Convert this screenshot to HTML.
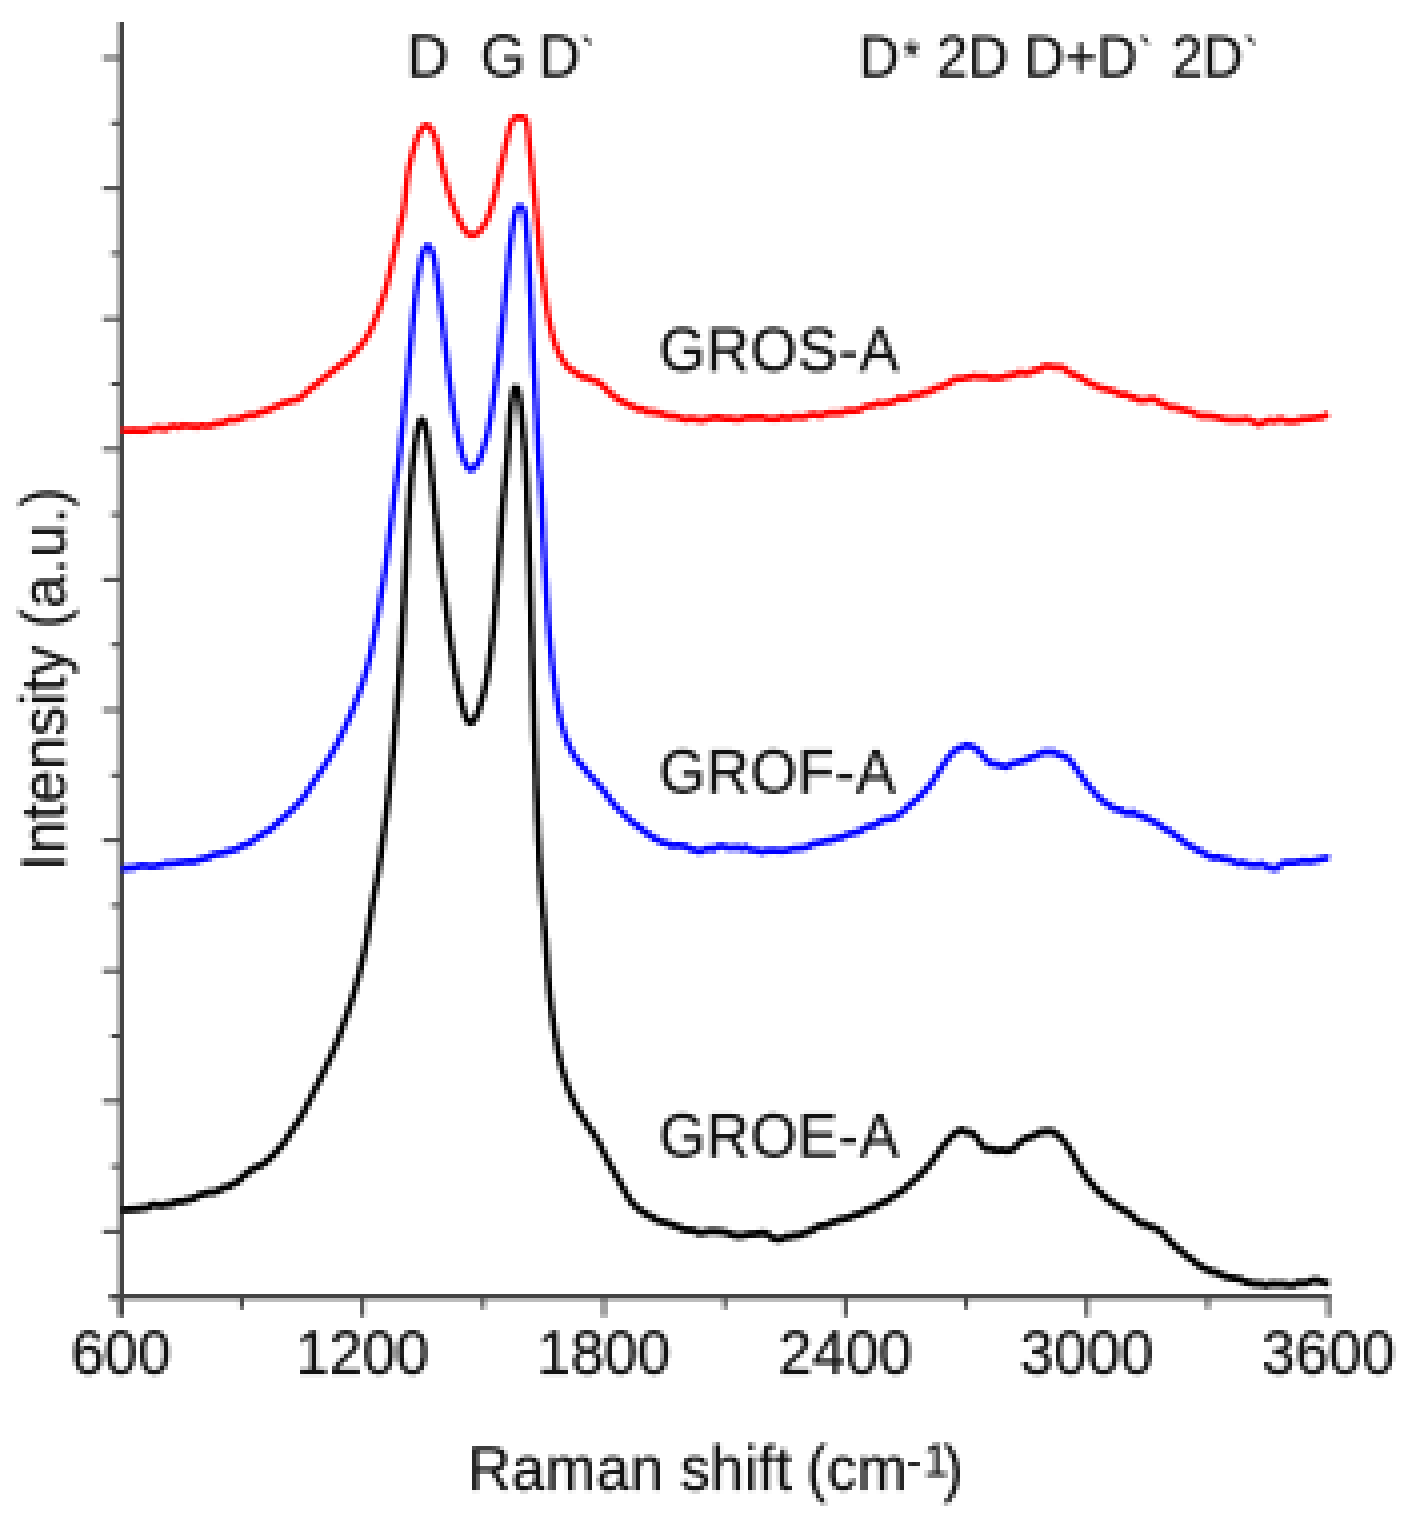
<!DOCTYPE html>
<html><head><meta charset="utf-8"><title>Raman spectra</title>
<style>
html,body{margin:0;padding:0;background:#fff;}
svg{display:block;}
text{font-family:"Liberation Sans",Arial,Helvetica,sans-serif;fill:#111;stroke:#111;stroke-width:0.5px;}
.t60{font-size:60px;}
.t58{font-size:58px;}
.t45{font-size:45px;}
.t46{font-size:46px;}
.t56{font-size:56px;}
</style></head><body>
<svg width="1408" height="1524" viewBox="0 0 1408 1524">
<defs>
<filter id="px" x="0" y="-2" width="1408" height="1528" filterUnits="userSpaceOnUse" color-interpolation-filters="sRGB">
<feConvolveMatrix in="SourceGraphic" order="4" kernelMatrix="1 1 1 1 1 1 1 1 1 1 1 1 1 1 1 1" divisor="16" targetX="1" targetY="1" edgeMode="duplicate" preserveAlpha="true" result="b"/>
<feFlood x="1" y="-1" width="1" height="1" flood-color="#000" result="f"/>
<feComposite in="f" in2="f" operator="over" x="0" y="-2" width="4" height="4" result="cell"/>
<feTile in="cell" result="grid"/>
<feComposite in="b" in2="grid" operator="in" result="s"/>
<feOffset in="s" dx="-1" dy="0" result="s1"/>
<feMerge result="m1"><feMergeNode in="s"/><feMergeNode in="s1"/></feMerge>
<feOffset in="m1" dx="2" dy="0" result="s2"/>
<feMerge result="m2"><feMergeNode in="m1"/><feMergeNode in="s2"/></feMerge>
<feOffset in="m2" dx="0" dy="-1" result="s3"/>
<feMerge result="m3"><feMergeNode in="m2"/><feMergeNode in="s3"/></feMerge>
<feOffset in="m3" dx="0" dy="2" result="s4"/>
<feMerge result="m4"><feMergeNode in="m3"/><feMergeNode in="s4"/></feMerge>
<feGaussianBlur in="m4" stdDeviation="0.5"/>
</filter>
</defs>
<rect width="1408" height="1524" fill="#fff"/>
<g filter="url(#px)">
<rect x="-8" y="-8" width="1424" height="1540" fill="#fff"/>
<line x1="118" y1="22" x2="118" y2="1317" stroke="#bdbdbd" stroke-width="4"/>
<line x1="109" y1="1300" x2="1331" y2="1300" stroke="#bdbdbd" stroke-width="4"/>
<line x1="122" y1="22" x2="122" y2="1317" stroke="#444" stroke-width="4"/>
<line x1="109" y1="1296" x2="1331" y2="1296" stroke="#444" stroke-width="4"/>
<line x1="103" y1="58.0" x2="121" y2="58.0" stroke="#444" stroke-width="4"/>
<line x1="111" y1="123.2" x2="121" y2="123.2" stroke="#444" stroke-width="4"/>
<line x1="103" y1="188.4" x2="121" y2="188.4" stroke="#444" stroke-width="4"/>
<line x1="111" y1="253.6" x2="121" y2="253.6" stroke="#444" stroke-width="4"/>
<line x1="103" y1="318.8" x2="121" y2="318.8" stroke="#444" stroke-width="4"/>
<line x1="111" y1="384.0" x2="121" y2="384.0" stroke="#444" stroke-width="4"/>
<line x1="103" y1="449.2" x2="121" y2="449.2" stroke="#444" stroke-width="4"/>
<line x1="111" y1="514.4" x2="121" y2="514.4" stroke="#444" stroke-width="4"/>
<line x1="103" y1="579.6" x2="121" y2="579.6" stroke="#444" stroke-width="4"/>
<line x1="111" y1="644.8" x2="121" y2="644.8" stroke="#444" stroke-width="4"/>
<line x1="103" y1="710.0" x2="121" y2="710.0" stroke="#444" stroke-width="4"/>
<line x1="111" y1="775.2" x2="121" y2="775.2" stroke="#444" stroke-width="4"/>
<line x1="103" y1="840.4" x2="121" y2="840.4" stroke="#444" stroke-width="4"/>
<line x1="111" y1="905.6" x2="121" y2="905.6" stroke="#444" stroke-width="4"/>
<line x1="103" y1="970.8" x2="121" y2="970.8" stroke="#444" stroke-width="4"/>
<line x1="111" y1="1036.0" x2="121" y2="1036.0" stroke="#444" stroke-width="4"/>
<line x1="103" y1="1101.2" x2="121" y2="1101.2" stroke="#444" stroke-width="4"/>
<line x1="111" y1="1166.4" x2="121" y2="1166.4" stroke="#444" stroke-width="4"/>
<line x1="103" y1="1231.6" x2="121" y2="1231.6" stroke="#444" stroke-width="4"/>
<line x1="111" y1="1296.8" x2="121" y2="1296.8" stroke="#444" stroke-width="4"/>
<line x1="121.0" y1="1296" x2="121.0" y2="1317" stroke="#444" stroke-width="4"/>
<line x1="241.8" y1="1296" x2="241.8" y2="1309" stroke="#444" stroke-width="4"/>
<line x1="362.5" y1="1296" x2="362.5" y2="1317" stroke="#444" stroke-width="4"/>
<line x1="483.2" y1="1296" x2="483.2" y2="1309" stroke="#444" stroke-width="4"/>
<line x1="604.0" y1="1296" x2="604.0" y2="1317" stroke="#444" stroke-width="4"/>
<line x1="724.8" y1="1296" x2="724.8" y2="1309" stroke="#444" stroke-width="4"/>
<line x1="845.5" y1="1296" x2="845.5" y2="1317" stroke="#444" stroke-width="4"/>
<line x1="966.2" y1="1296" x2="966.2" y2="1309" stroke="#444" stroke-width="4"/>
<line x1="1087.0" y1="1296" x2="1087.0" y2="1317" stroke="#444" stroke-width="4"/>
<line x1="1207.8" y1="1296" x2="1207.8" y2="1309" stroke="#444" stroke-width="4"/>
<line x1="1328.5" y1="1296" x2="1328.5" y2="1317" stroke="#444" stroke-width="4"/>
<text transform="translate(121.0,1374) scale(1,1.06)" class="t60" text-anchor="middle">600</text>
<text transform="translate(362.5,1374) scale(1,1.06)" class="t60" text-anchor="middle">1200</text>
<text transform="translate(604.0,1374) scale(1,1.06)" class="t60" text-anchor="middle">1800</text>
<text transform="translate(845.5,1374) scale(1,1.06)" class="t60" text-anchor="middle">2400</text>
<text transform="translate(1087.0,1374) scale(1,1.06)" class="t60" text-anchor="middle">3000</text>
<text transform="translate(1328.5,1374) scale(1,1.06)" class="t60" text-anchor="middle">3600</text>
<path d="M121.3,430.1 L127.8,430.8 L133.9,430.2 L140.7,430.7 L147.6,430.5 L154.0,428.4 L159.5,427.8 L164.7,429.4 L169.9,427.0 L174.7,426.0 L179.3,427.3 L183.4,425.3 L188.2,426.2 L192.3,425.9 L196.4,427.1 L201.3,425.4 L205.5,426.1 L210.2,425.8 L215.2,423.9 L220.4,423.3 L225.4,422.0 L230.2,419.4 L234.9,420.1 L239.7,418.6 L244.4,416.8 L249.2,414.9 L253.9,415.4 L258.7,413.0 L263.7,411.6 L268.9,409.8 L273.9,407.3 L278.6,405.7 L282.8,403.0 L287.9,402.1 L292.7,400.2 L296.7,400.0 L301.3,397.1 L304.8,393.7 L308.3,390.7 L311.8,387.6 L315.4,385.4 L318.9,382.1 L322.5,379.4 L326.1,376.3 L329.7,373.6 L333.2,370.7 L336.8,367.9 L340.3,365.2 L343.9,362.2 L347.4,359.6 L351.0,356.3 L354.5,352.9 L358.1,348.9 L361.6,344.7 L365.2,339.7 L367.5,335.8 L369.9,331.6 L372.3,326.4 L374.9,320.4 L377.4,313.9 L379.8,307.3 L382.1,300.7 L384.1,294.5 L385.0,291.6 L385.8,288.6 L386.6,285.7 L387.4,282.8 L388.0,280.0 L388.7,277.1 L389.3,274.3 L390.0,271.5 L390.6,268.7 L391.2,266.0 L391.8,263.2 L392.4,260.5 L393.0,257.8 L393.7,255.1 L394.3,252.3 L394.9,249.6 L395.5,246.9 L396.1,244.2 L396.7,241.6 L397.2,239.0 L397.8,236.5 L398.3,234.1 L398.8,231.7 L399.3,229.5 L399.8,227.4 L400.2,225.5 L400.6,223.8 L401.0,222.2 L401.4,220.6 L401.8,219.1 L402.1,217.5 L402.5,215.9 L402.8,214.2 L403.2,212.3 L403.5,210.2 L403.9,207.9 L404.3,205.3 L404.6,202.5 L405.0,199.6 L405.3,196.4 L405.7,193.2 L406.0,189.9 L406.3,186.5 L406.7,183.2 L407.1,180.0 L407.5,176.8 L407.9,173.8 L408.4,171.0 L408.9,168.3 L409.5,165.6 L410.0,162.9 L410.6,160.3 L411.3,157.8 L411.9,155.3 L412.5,152.9 L413.2,150.6 L413.8,148.4 L414.4,146.3 L415.0,144.4 L415.5,142.6 L416.0,141.0 L416.5,139.5 L417.0,138.1 L417.5,136.9 L418.0,135.8 L419.0,133.8 L419.8,132.1 L420.6,130.7 L421.3,129.4 L422.2,128.1 L423.1,127.1 L424.2,126.3 L425.4,125.8 L426.8,125.8 L428.1,126.2 L429.2,127.0 L430.3,127.9 L430.9,128.9 L431.5,130.0 L432.2,131.3 L433.0,132.8 L433.9,134.5 L434.8,136.7 L435.3,137.9 L435.8,139.3 L436.3,140.9 L436.8,142.6 L437.3,144.6 L437.9,146.8 L438.4,149.2 L439.0,151.9 L439.6,154.6 L440.2,157.4 L440.9,160.3 L441.5,163.2 L442.1,166.0 L442.7,168.8 L443.3,171.4 L443.9,173.9 L444.5,176.3 L445.1,178.6 L445.7,180.8 L446.3,183.1 L446.9,185.3 L447.4,187.5 L448.0,189.6 L448.6,191.6 L449.2,193.7 L449.8,195.6 L450.4,197.5 L451.0,199.4 L451.6,201.2 L452.2,203.0 L452.8,204.7 L453.4,206.3 L454.0,207.9 L454.6,209.4 L455.1,211.0 L455.7,212.4 L456.3,213.8 L456.9,215.2 L457.5,216.6 L458.1,217.9 L458.7,219.2 L459.3,220.5 L459.9,221.7 L460.5,222.9 L461.1,224.1 L461.7,225.2 L462.3,226.3 L463.5,228.2 L464.7,229.9 L465.7,231.4 L466.8,232.5 L467.8,233.3 L469.2,234.3 L470.5,234.8 L471.7,235.2 L473.0,235.1 L474.3,234.6 L475.7,234.0 L477.0,233.5 L478.1,232.7 L479.4,231.4 L480.4,230.2 L481.6,228.8 L482.8,227.2 L484.0,225.3 L484.7,224.3 L485.3,223.2 L485.9,222.0 L486.5,220.7 L487.1,219.3 L487.7,217.9 L488.3,216.4 L488.9,214.8 L489.5,213.1 L490.1,211.3 L490.6,209.5 L491.2,207.6 L491.8,205.7 L492.4,203.6 L493.0,201.6 L493.6,199.4 L494.2,197.2 L494.8,194.8 L495.4,192.3 L496.0,189.8 L496.6,187.2 L497.1,184.5 L497.7,181.8 L498.3,179.1 L498.9,176.3 L499.5,173.6 L500.1,170.9 L500.7,168.2 L501.3,165.5 L501.9,162.6 L502.6,159.6 L503.2,156.6 L503.9,153.6 L504.5,150.6 L505.1,147.7 L505.7,144.8 L506.3,142.2 L506.9,139.7 L507.4,137.5 L507.8,135.5 L508.2,133.8 L508.5,132.4 L508.8,131.1 L509.3,129.1 L509.7,127.7 L510.1,126.4 L510.5,125.3 L510.9,123.9 L511.4,122.7 L512.1,121.2 L512.8,120.0 L513.5,119.0 L514.5,118.2 L515.7,117.8 L517.0,117.5 L518.5,117.3 L519.9,117.3 L521.2,117.3 L522.5,117.5 L523.7,117.8 L524.8,118.3 L525.6,119.5 L526.2,121.1 L526.5,122.4 L526.9,124.0 L527.2,125.6 L527.6,127.5 L527.8,129.3 L528.0,130.9 L528.2,132.5 L528.3,134.4 L528.6,136.9 L528.7,138.5 L528.9,140.4 L529.1,142.6 L529.4,145.2 L529.6,148.1 L530.0,151.3 L530.3,154.7 L530.7,158.3 L531.1,162.1 L531.5,166.0 L531.9,169.9 L532.3,173.9 L532.6,177.8 L533.0,181.6 L533.4,185.2 L533.8,188.8 L534.1,192.4 L534.5,196.1 L534.9,199.8 L535.2,203.5 L535.6,207.1 L536.0,210.8 L536.3,214.3 L536.7,217.8 L537.0,221.3 L537.4,224.6 L537.7,227.8 L538.0,230.8 L538.3,233.7 L538.5,236.4 L538.8,239.0 L539.0,241.5 L539.2,244.0 L539.4,246.5 L539.7,249.0 L540.0,251.7 L540.2,254.4 L540.5,257.4 L540.9,260.5 L541.3,263.9 L541.7,267.5 L542.1,271.4 L542.6,275.3 L543.1,279.4 L543.6,283.5 L544.1,287.5 L544.6,291.6 L545.1,295.4 L545.6,299.2 L546.1,302.7 L546.6,305.9 L547.1,308.9 L547.5,311.7 L548.0,314.5 L548.5,317.0 L549.0,319.5 L549.4,321.9 L549.9,324.1 L550.4,326.3 L550.9,328.4 L551.3,330.4 L551.8,332.4 L552.3,334.3 L552.8,336.1 L553.2,337.8 L553.7,339.4 L554.1,340.9 L554.5,342.4 L555.0,343.7 L555.4,345.1 L555.9,346.3 L556.4,347.6 L556.9,348.8 L557.4,350.1 L558.0,351.4 L558.6,352.7 L559.2,354.0 L559.9,355.3 L561.9,359.0 L564.1,362.4 L567.3,366.6 L570.9,369.5 L574.7,372.0 L578.9,375.0 L583.8,377.6 L587.6,377.8 L592.0,380.2 L596.4,381.2 L600.3,383.7 L603.6,386.6 L607.1,390.2 L610.7,393.7 L614.2,396.2 L617.8,399.1 L621.3,401.2 L624.9,402.8 L629.3,405.2 L633.8,406.9 L638.2,409.3 L642.6,408.9 L647.1,412.0 L651.5,411.6 L656.0,412.8 L660.4,413.3 L664.8,415.1 L669.2,416.0 L673.7,416.2 L677.7,416.9 L681.8,418.6 L686.6,419.5 L691.5,418.4 L697.1,419.5 L702.8,420.2 L708.3,418.7 L713.6,417.7 L719.0,417.5 L724.3,418.6 L729.7,418.4 L735.0,419.4 L740.3,419.2 L745.7,417.6 L751.0,417.5 L756.3,417.6 L761.6,417.2 L767.0,418.6 L772.3,418.9 L777.6,418.9 L782.9,416.9 L788.2,418.5 L793.6,416.7 L798.9,416.7 L804.2,417.2 L809.5,414.9 L814.9,414.4 L820.2,415.9 L825.5,413.6 L830.9,413.0 L836.2,413.0 L841.9,412.8 L847.6,410.5 L852.8,410.9 L857.0,410.5 L860.9,409.2 L864.7,406.8 L869.1,405.9 L873.5,405.4 L877.9,403.2 L882.4,404.1 L886.8,403.1 L891.3,402.2 L894.9,400.9 L899.0,397.9 L903.6,399.1 L907.8,398.2 L912.7,395.0 L918.3,395.4 L922.2,392.9 L926.1,392.6 L931.6,390.6 L935.5,388.2 L939.4,387.4 L944.8,385.1 L949.2,383.3 L952.9,380.1 L956.5,378.8 L960.8,378.9 L966.5,377.8 L970.7,377.3 L975.0,376.0 L979.2,377.1 L984.9,376.7 L990.7,378.0 L996.2,378.1 L1001.0,377.8 L1005.6,376.2 L1009.9,375.5 L1014.5,374.4 L1019.8,372.4 L1025.7,373.6 L1031.3,372.1 L1035.6,370.0 L1040.0,369.5 L1043.9,366.2 L1049.1,366.1 L1053.8,367.2 L1058.4,367.1 L1063.0,367.6 L1066.1,370.3 L1069.4,372.7 L1074.0,374.8 L1077.9,376.5 L1082.0,378.4 L1086.2,381.4 L1090.5,383.6 L1095.0,385.4 L1099.7,387.8 L1104.7,388.9 L1109.9,390.2 L1115.4,392.0 L1120.8,394.6 L1126.3,394.5 L1130.2,396.8 L1134.0,397.5 L1139.5,400.3 L1143.9,400.3 L1148.1,399.6 L1152.4,398.3 L1157.0,400.7 L1161.3,403.6 L1165.2,404.7 L1169.9,407.4 L1175.3,407.4 L1181.0,409.4 L1186.5,410.5 L1191.8,412.0 L1197.2,415.0 L1202.6,416.2 L1207.9,415.9 L1213.2,416.6 L1218.6,417.7 L1223.9,419.1 L1229.2,419.7 L1234.9,419.9 L1240.8,419.8 L1246.2,418.9 L1250.5,420.3 L1254.1,422.2 L1257.8,424.2 L1262.2,423.2 L1266.0,421.1 L1270.3,420.1 L1275.0,421.1 L1280.2,418.7 L1285.8,421.0 L1291.3,421.2 L1296.7,421.0 L1302.4,418.9 L1307.9,418.8 L1312.9,418.3 L1317.3,417.6 L1321.4,417.3 L1325.9,415.3 L1328.2,413.8" fill="none" stroke="#ff0000" stroke-width="5.3" stroke-linejoin="round" stroke-linecap="butt" transform="translate(0,-0.8)"/>
<path d="M121.3,430.1 L127.8,430.8 L133.9,430.2 L140.7,430.7 L147.6,430.5 L154.0,428.4 L159.5,427.8 L164.7,429.4 L169.9,427.0 L174.7,426.0 L179.3,427.3 L183.4,425.3 L188.2,426.2 L192.3,425.9 L196.4,427.1 L201.3,425.4 L205.5,426.1 L210.2,425.8 L215.2,423.9 L220.4,423.3 L225.4,422.0 L230.2,419.4 L234.9,420.1 L239.7,418.6 L244.4,416.8 L249.2,414.9 L253.9,415.4 L258.7,413.0 L263.7,411.6 L268.9,409.8 L273.9,407.3 L278.6,405.7 L282.8,403.0 L287.9,402.1 L292.7,400.2 L296.7,400.0 L301.3,397.1 L304.8,393.7 L308.3,390.7 L311.8,387.6 L315.4,385.4 L318.9,382.1 L322.5,379.4 L326.1,376.3 L329.7,373.6 L333.2,370.7 L336.8,367.9 L340.3,365.2 L343.9,362.2 L347.4,359.6 L351.0,356.3 L354.5,352.9 L358.1,348.9 L361.6,344.7 L365.2,339.7 L367.5,335.8 L369.9,331.6 L372.3,326.4 L374.9,320.4 L377.4,313.9 L379.8,307.3 L382.1,300.7 L384.1,294.5 L385.0,291.6 L385.8,288.6 L386.6,285.7 L387.4,282.8 L388.0,280.0 L388.7,277.1 L389.3,274.3 L390.0,271.5 L390.6,268.7 L391.2,266.0 L391.8,263.2 L392.4,260.5 L393.0,257.8 L393.7,255.1 L394.3,252.3 L394.9,249.6 L395.5,246.9 L396.1,244.2 L396.7,241.6 L397.2,239.0 L397.8,236.5 L398.3,234.1 L398.8,231.7 L399.3,229.5 L399.8,227.4 L400.2,225.5 L400.6,223.8 L401.0,222.2 L401.4,220.6 L401.8,219.1 L402.1,217.5 L402.5,215.9 L402.8,214.2 L403.2,212.3 L403.5,210.2 L403.9,207.9 L404.3,205.3 L404.6,202.5 L405.0,199.6 L405.3,196.4 L405.7,193.2 L406.0,189.9 L406.3,186.5 L406.7,183.2 L407.1,180.0 L407.5,176.8 L407.9,173.8 L408.4,171.0 L408.9,168.3 L409.5,165.6 L410.0,162.9 L410.6,160.3 L411.3,157.8 L411.9,155.3 L412.5,152.9 L413.2,150.6 L413.8,148.4 L414.4,146.3 L415.0,144.4 L415.5,142.6 L416.0,141.0 L416.5,139.5 L417.0,138.1 L417.5,136.9 L418.0,135.8 L419.0,133.8 L419.8,132.1 L420.6,130.7 L421.3,129.4 L422.2,128.1 L423.1,127.1 L424.2,126.3 L425.4,125.8 L426.8,125.8 L428.1,126.2 L429.2,127.0 L430.3,127.9 L430.9,128.9 L431.5,130.0 L432.2,131.3 L433.0,132.8 L433.9,134.5 L434.8,136.7 L435.3,137.9 L435.8,139.3 L436.3,140.9 L436.8,142.6 L437.3,144.6 L437.9,146.8 L438.4,149.2 L439.0,151.9 L439.6,154.6 L440.2,157.4 L440.9,160.3 L441.5,163.2 L442.1,166.0 L442.7,168.8 L443.3,171.4 L443.9,173.9 L444.5,176.3 L445.1,178.6 L445.7,180.8 L446.3,183.1 L446.9,185.3 L447.4,187.5 L448.0,189.6 L448.6,191.6 L449.2,193.7 L449.8,195.6 L450.4,197.5 L451.0,199.4 L451.6,201.2 L452.2,203.0 L452.8,204.7 L453.4,206.3 L454.0,207.9 L454.6,209.4 L455.1,211.0 L455.7,212.4 L456.3,213.8 L456.9,215.2 L457.5,216.6 L458.1,217.9 L458.7,219.2 L459.3,220.5 L459.9,221.7 L460.5,222.9 L461.1,224.1 L461.7,225.2 L462.3,226.3 L463.5,228.2 L464.7,229.9 L465.7,231.4 L466.8,232.5 L467.8,233.3 L469.2,234.3 L470.5,234.8 L471.7,235.2 L473.0,235.1 L474.3,234.6 L475.7,234.0 L477.0,233.5 L478.1,232.7 L479.4,231.4 L480.4,230.2 L481.6,228.8 L482.8,227.2 L484.0,225.3 L484.7,224.3 L485.3,223.2 L485.9,222.0 L486.5,220.7 L487.1,219.3 L487.7,217.9 L488.3,216.4 L488.9,214.8 L489.5,213.1 L490.1,211.3 L490.6,209.5 L491.2,207.6 L491.8,205.7 L492.4,203.6 L493.0,201.6 L493.6,199.4 L494.2,197.2 L494.8,194.8 L495.4,192.3 L496.0,189.8 L496.6,187.2 L497.1,184.5 L497.7,181.8 L498.3,179.1 L498.9,176.3 L499.5,173.6 L500.1,170.9 L500.7,168.2 L501.3,165.5 L501.9,162.6 L502.6,159.6 L503.2,156.6 L503.9,153.6 L504.5,150.6 L505.1,147.7 L505.7,144.8 L506.3,142.2 L506.9,139.7 L507.4,137.5 L507.8,135.5 L508.2,133.8 L508.5,132.4 L508.8,131.1 L509.3,129.1 L509.7,127.7 L510.1,126.4 L510.5,125.3 L510.9,123.9 L511.4,122.7 L512.1,121.2 L512.8,120.0 L513.5,119.0 L514.5,118.2 L515.7,117.8 L517.0,117.5 L518.5,117.3 L519.9,117.3 L521.2,117.3 L522.5,117.5 L523.7,117.8 L524.8,118.3 L525.6,119.5 L526.2,121.1 L526.5,122.4 L526.9,124.0 L527.2,125.6 L527.6,127.5 L527.8,129.3 L528.0,130.9 L528.2,132.5 L528.3,134.4 L528.6,136.9 L528.7,138.5 L528.9,140.4 L529.1,142.6 L529.4,145.2 L529.6,148.1 L530.0,151.3 L530.3,154.7 L530.7,158.3 L531.1,162.1 L531.5,166.0 L531.9,169.9 L532.3,173.9 L532.6,177.8 L533.0,181.6 L533.4,185.2 L533.8,188.8 L534.1,192.4 L534.5,196.1 L534.9,199.8 L535.2,203.5 L535.6,207.1 L536.0,210.8 L536.3,214.3 L536.7,217.8 L537.0,221.3 L537.4,224.6 L537.7,227.8 L538.0,230.8 L538.3,233.7 L538.5,236.4 L538.8,239.0 L539.0,241.5 L539.2,244.0 L539.4,246.5 L539.7,249.0 L540.0,251.7 L540.2,254.4 L540.5,257.4 L540.9,260.5 L541.3,263.9 L541.7,267.5 L542.1,271.4 L542.6,275.3 L543.1,279.4 L543.6,283.5 L544.1,287.5 L544.6,291.6 L545.1,295.4 L545.6,299.2 L546.1,302.7 L546.6,305.9 L547.1,308.9 L547.5,311.7 L548.0,314.5 L548.5,317.0 L549.0,319.5 L549.4,321.9 L549.9,324.1 L550.4,326.3 L550.9,328.4 L551.3,330.4 L551.8,332.4 L552.3,334.3 L552.8,336.1 L553.2,337.8 L553.7,339.4 L554.1,340.9 L554.5,342.4 L555.0,343.7 L555.4,345.1 L555.9,346.3 L556.4,347.6 L556.9,348.8 L557.4,350.1 L558.0,351.4 L558.6,352.7 L559.2,354.0 L559.9,355.3 L561.9,359.0 L564.1,362.4 L567.3,366.6 L570.9,369.5 L574.7,372.0 L578.9,375.0 L583.8,377.6 L587.6,377.8 L592.0,380.2 L596.4,381.2 L600.3,383.7 L603.6,386.6 L607.1,390.2 L610.7,393.7 L614.2,396.2 L617.8,399.1 L621.3,401.2 L624.9,402.8 L629.3,405.2 L633.8,406.9 L638.2,409.3 L642.6,408.9 L647.1,412.0 L651.5,411.6 L656.0,412.8 L660.4,413.3 L664.8,415.1 L669.2,416.0 L673.7,416.2 L677.7,416.9 L681.8,418.6 L686.6,419.5 L691.5,418.4 L697.1,419.5 L702.8,420.2 L708.3,418.7 L713.6,417.7 L719.0,417.5 L724.3,418.6 L729.7,418.4 L735.0,419.4 L740.3,419.2 L745.7,417.6 L751.0,417.5 L756.3,417.6 L761.6,417.2 L767.0,418.6 L772.3,418.9 L777.6,418.9 L782.9,416.9 L788.2,418.5 L793.6,416.7 L798.9,416.7 L804.2,417.2 L809.5,414.9 L814.9,414.4 L820.2,415.9 L825.5,413.6 L830.9,413.0 L836.2,413.0 L841.9,412.8 L847.6,410.5 L852.8,410.9 L857.0,410.5 L860.9,409.2 L864.7,406.8 L869.1,405.9 L873.5,405.4 L877.9,403.2 L882.4,404.1 L886.8,403.1 L891.3,402.2 L894.9,400.9 L899.0,397.9 L903.6,399.1 L907.8,398.2 L912.7,395.0 L918.3,395.4 L922.2,392.9 L926.1,392.6 L931.6,390.6 L935.5,388.2 L939.4,387.4 L944.8,385.1 L949.2,383.3 L952.9,380.1 L956.5,378.8 L960.8,378.9 L966.5,377.8 L970.7,377.3 L975.0,376.0 L979.2,377.1 L984.9,376.7 L990.7,378.0 L996.2,378.1 L1001.0,377.8 L1005.6,376.2 L1009.9,375.5 L1014.5,374.4 L1019.8,372.4 L1025.7,373.6 L1031.3,372.1 L1035.6,370.0 L1040.0,369.5 L1043.9,366.2 L1049.1,366.1 L1053.8,367.2 L1058.4,367.1 L1063.0,367.6 L1066.1,370.3 L1069.4,372.7 L1074.0,374.8 L1077.9,376.5 L1082.0,378.4 L1086.2,381.4 L1090.5,383.6 L1095.0,385.4 L1099.7,387.8 L1104.7,388.9 L1109.9,390.2 L1115.4,392.0 L1120.8,394.6 L1126.3,394.5 L1130.2,396.8 L1134.0,397.5 L1139.5,400.3 L1143.9,400.3 L1148.1,399.6 L1152.4,398.3 L1157.0,400.7 L1161.3,403.6 L1165.2,404.7 L1169.9,407.4 L1175.3,407.4 L1181.0,409.4 L1186.5,410.5 L1191.8,412.0 L1197.2,415.0 L1202.6,416.2 L1207.9,415.9 L1213.2,416.6 L1218.6,417.7 L1223.9,419.1 L1229.2,419.7 L1234.9,419.9 L1240.8,419.8 L1246.2,418.9 L1250.5,420.3 L1254.1,422.2 L1257.8,424.2 L1262.2,423.2 L1266.0,421.1 L1270.3,420.1 L1275.0,421.1 L1280.2,418.7 L1285.8,421.0 L1291.3,421.2 L1296.7,421.0 L1302.4,418.9 L1307.9,418.8 L1312.9,418.3 L1317.3,417.6 L1321.4,417.3 L1325.9,415.3 L1328.2,413.8" fill="none" stroke="#ff0000" stroke-width="5.3" stroke-linejoin="round" stroke-linecap="butt" transform="translate(0,0.8)"/>
<path d="M121.7,869.3 L127.4,868.0 L133.3,867.8 L137.5,866.5 L141.5,865.7 L146.7,865.9 L151.7,866.7 L156.6,865.8 L161.7,865.2 L167.3,863.2 L171.3,864.0 L175.4,863.0 L179.4,862.5 L185.0,861.9 L189.5,861.5 L194.4,861.7 L198.8,859.9 L203.5,858.6 L208.3,857.5 L213.1,854.9 L217.9,853.9 L222.7,853.1 L227.5,851.7 L232.3,850.4 L237.2,849.0 L242.0,845.8 L246.8,844.4 L250.4,842.4 L254.0,840.0 L257.6,837.2 L261.2,835.2 L264.8,832.4 L268.5,830.8 L272.1,828.0 L275.7,824.8 L279.3,821.4 L282.9,818.5 L286.5,814.9 L290.1,811.7 L293.8,808.2 L297.5,804.4 L301.0,800.6 L304.2,796.6 L307.1,792.3 L309.9,787.8 L312.7,783.4 L315.6,779.2 L318.5,774.8 L321.4,770.5 L324.2,766.2 L327.1,761.4 L330.0,756.6 L332.9,751.5 L334.9,748.0 L336.8,744.5 L338.7,740.6 L340.6,736.7 L342.6,732.6 L344.5,728.6 L346.4,724.3 L348.3,719.9 L350.3,715.4 L352.3,710.6 L354.3,705.7 L356.2,700.8 L358.1,695.8 L359.9,691.0 L361.5,686.2 L363.1,681.6 L364.5,676.9 L365.9,672.1 L367.3,667.2 L368.6,662.1 L369.9,656.7 L371.2,651.0 L372.4,645.2 L373.6,639.3 L374.7,633.4 L375.8,627.5 L376.9,621.7 L377.9,615.7 L378.8,609.8 L379.8,603.9 L380.6,598.2 L381.5,592.8 L382.3,587.7 L383.1,583.0 L383.8,578.4 L384.5,573.8 L385.2,569.1 L385.5,566.6 L385.9,564.0 L386.3,561.3 L386.6,558.6 L387.0,555.7 L387.3,552.9 L387.7,550.0 L388.1,547.0 L388.4,544.0 L388.8,541.1 L389.1,538.1 L389.5,535.1 L389.8,532.2 L390.2,529.3 L390.6,526.4 L390.9,523.5 L391.3,520.6 L391.6,517.8 L392.0,514.9 L392.3,512.0 L392.7,509.1 L393.1,506.2 L393.4,503.4 L393.8,500.5 L394.1,497.6 L394.5,494.7 L394.9,491.9 L395.2,489.2 L395.6,486.5 L395.9,483.9 L396.3,481.3 L396.7,478.7 L397.0,476.0 L397.4,473.2 L397.8,470.2 L398.2,467.0 L398.6,463.6 L399.0,460.0 L399.4,456.1 L399.9,451.9 L400.4,447.4 L400.9,442.8 L401.3,438.0 L401.9,433.1 L402.4,428.2 L402.9,423.2 L403.4,418.2 L403.8,413.3 L404.3,408.5 L404.8,403.9 L405.3,399.4 L405.7,394.9 L406.2,390.4 L406.6,385.9 L407.0,381.5 L407.5,377.1 L407.9,372.7 L408.4,368.3 L408.8,363.9 L409.2,359.5 L409.7,355.0 L410.1,350.6 L410.5,346.1 L411.0,341.5 L411.4,336.9 L411.9,332.2 L412.3,327.5 L412.7,322.9 L413.2,318.3 L413.6,313.8 L414.1,309.4 L414.5,305.2 L415.0,301.1 L415.4,297.3 L415.9,293.6 L416.3,290.0 L416.8,286.4 L417.3,283.0 L417.7,279.7 L418.2,276.5 L418.7,273.5 L419.1,270.6 L419.6,267.9 L420.0,265.4 L420.4,263.1 L420.8,261.0 L421.2,259.1 L421.5,257.6 L421.9,256.2 L422.2,255.0 L422.8,253.2 L423.4,251.8 L423.9,250.7 L424.5,249.5 L425.1,248.4 L425.9,247.2 L427.0,246.3 L428.3,246.2 L429.4,246.9 L430.2,247.9 L431.0,249.5 L431.6,250.6 L432.1,251.7 L432.7,253.1 L433.3,254.9 L433.6,256.0 L433.9,257.4 L434.2,259.1 L434.6,261.0 L435.0,263.2 L435.4,265.7 L435.8,268.5 L436.3,271.5 L436.7,274.7 L437.2,278.0 L437.7,281.4 L438.1,285.0 L438.6,288.6 L439.1,292.2 L439.5,295.8 L440.0,299.4 L440.4,303.0 L440.9,306.8 L441.3,310.6 L441.8,314.6 L442.2,318.6 L442.7,322.6 L443.1,326.6 L443.5,330.7 L444.0,334.7 L444.4,338.6 L444.9,342.5 L445.3,346.3 L445.7,350.0 L446.2,353.7 L446.6,357.4 L447.1,361.1 L447.5,364.7 L447.9,368.3 L448.4,371.9 L448.8,375.4 L449.3,378.9 L449.7,382.3 L450.2,385.7 L450.6,389.0 L451.0,392.3 L451.5,395.5 L451.9,398.7 L452.4,401.8 L452.8,404.9 L453.2,407.9 L453.7,410.9 L454.1,413.8 L454.6,416.8 L455.0,419.6 L455.5,422.4 L456.0,425.2 L456.5,428.0 L457.0,430.8 L457.5,433.5 L458.1,436.3 L458.6,439.0 L459.2,441.7 L459.7,444.2 L460.3,446.7 L460.8,449.0 L461.3,451.2 L461.8,453.2 L462.3,455.0 L462.7,456.6 L463.2,458.0 L463.6,459.2 L464.4,461.3 L465.2,462.9 L465.9,464.2 L466.6,465.4 L467.4,466.6 L468.1,467.6 L469.1,468.7 L470.2,469.3 L471.6,469.5 L472.9,468.8 L474.0,467.8 L475.1,466.5 L475.9,465.5 L476.6,464.6 L477.4,463.6 L478.2,462.3 L479.1,460.7 L480.0,458.5 L480.5,457.2 L481.0,455.7 L481.6,454.1 L482.2,452.3 L482.8,450.4 L483.5,448.4 L484.1,446.2 L484.8,444.0 L485.4,441.7 L486.1,439.3 L486.7,436.8 L487.3,434.2 L487.9,431.6 L488.5,428.9 L489.0,426.0 L489.6,423.0 L490.1,419.9 L490.7,416.7 L491.2,413.5 L491.8,410.1 L492.3,406.8 L492.8,403.4 L493.3,400.0 L493.8,396.6 L494.3,393.2 L494.8,389.8 L495.3,386.5 L495.7,383.1 L496.2,379.7 L496.6,376.3 L497.1,372.8 L497.5,369.3 L497.9,365.7 L498.4,362.1 L498.8,358.4 L499.3,354.5 L499.7,350.6 L500.1,346.5 L500.6,342.3 L501.0,338.0 L501.5,333.6 L501.9,329.2 L502.4,324.6 L502.8,320.1 L503.2,315.5 L503.7,310.9 L504.1,306.3 L504.6,301.8 L505.0,297.3 L505.4,292.8 L505.9,288.1 L506.3,283.4 L506.8,278.6 L507.3,273.8 L507.7,269.1 L508.2,264.4 L508.6,259.9 L509.0,255.5 L509.5,251.4 L509.9,247.5 L510.3,244.0 L510.7,240.7 L511.1,237.7 L511.5,234.8 L511.9,232.1 L512.2,229.6 L512.6,227.2 L513.0,225.1 L513.3,223.0 L513.6,221.1 L514.0,219.4 L514.3,217.7 L514.6,216.2 L514.9,214.8 L515.4,212.7 L515.9,211.3 L516.6,209.9 L517.3,208.9 L517.9,207.8 L518.9,206.9 L520.1,206.7 L521.4,207.1 L522.3,208.1 L523.2,209.3 L524.0,210.5 L524.5,212.0 L525.0,214.5 L525.2,216.2 L525.5,218.3 L525.7,220.8 L526.0,223.5 L526.3,226.6 L526.5,229.8 L526.8,233.2 L527.1,236.7 L527.4,240.3 L527.7,244.0 L527.9,247.6 L528.2,251.2 L528.4,254.6 L528.6,258.0 L528.8,261.3 L529.0,264.7 L529.2,268.1 L529.4,271.6 L529.5,275.0 L529.7,278.5 L529.9,282.1 L530.1,285.8 L530.2,289.5 L530.4,293.4 L530.6,297.3 L530.8,301.4 L531.0,305.6 L531.2,309.9 L531.4,314.3 L531.6,318.8 L531.8,323.3 L532.0,327.9 L532.2,332.4 L532.4,337.0 L532.7,341.6 L532.9,346.1 L533.1,350.6 L533.3,355.0 L533.5,359.5 L533.8,363.9 L534.0,368.4 L534.2,372.8 L534.5,377.2 L534.7,381.7 L535.0,386.1 L535.2,390.6 L535.4,395.0 L535.7,399.5 L535.9,403.9 L536.1,408.4 L536.4,413.0 L536.6,417.7 L536.8,422.4 L537.1,427.1 L537.3,431.8 L537.6,436.4 L537.8,441.0 L538.0,445.3 L538.3,449.5 L538.5,453.5 L538.7,457.2 L538.9,460.6 L539.1,463.5 L539.3,466.2 L539.5,468.6 L539.7,470.9 L540.0,473.1 L540.2,475.4 L540.4,477.7 L540.6,480.3 L540.8,483.1 L541.0,486.3 L541.2,490.0 L541.4,494.1 L541.6,498.4 L541.8,503.0 L542.1,507.9 L542.3,512.9 L542.5,518.1 L542.7,523.4 L542.9,528.9 L543.2,534.4 L543.4,539.9 L543.7,545.5 L544.0,551.0 L544.3,556.6 L544.6,562.4 L544.9,568.4 L545.3,574.4 L545.6,580.6 L546.0,586.8 L546.3,592.9 L546.7,599.0 L547.1,605.0 L547.5,610.9 L547.9,616.5 L548.3,622.0 L548.7,627.3 L549.2,632.5 L549.6,637.6 L550.0,642.5 L550.5,647.4 L551.0,652.2 L551.5,656.9 L551.9,661.5 L552.4,666.0 L553.0,670.4 L553.5,674.7 L554.0,678.9 L554.5,683.0 L555.1,687.0 L555.6,690.9 L556.2,694.7 L556.7,698.4 L557.3,702.0 L557.9,705.5 L558.5,708.9 L559.1,712.2 L559.7,715.4 L561.1,721.5 L562.5,727.2 L564.0,732.3 L565.6,737.1 L567.3,741.6 L569.1,745.9 L571.0,749.8 L573.1,753.8 L575.4,757.2 L577.8,760.8 L580.3,763.7 L584.0,768.1 L587.6,772.5 L591.1,776.7 L594.7,780.2 L598.2,784.2 L601.8,788.4 L605.3,793.0 L607.7,796.3 L611.2,801.0 L614.8,805.5 L618.3,808.9 L621.9,812.4 L625.4,816.2 L629.0,818.9 L632.5,822.5 L636.1,824.8 L639.6,827.7 L643.2,830.4 L646.8,833.4 L650.3,835.2 L653.9,838.4 L657.5,839.6 L662.2,842.7 L667.0,843.1 L671.7,846.1 L676.6,845.2 L681.4,845.7 L685.7,846.2 L690.2,848.8 L694.9,850.1 L699.8,851.8 L704.0,849.9 L708.4,848.3 L713.0,849.3 L717.9,846.4 L723.0,846.0 L728.1,847.9 L733.0,847.9 L737.5,847.3 L741.7,848.7 L745.8,846.9 L750.0,849.9 L754.2,850.1 L758.5,850.8 L762.7,852.1 L767.0,850.4 L771.3,850.8 L775.7,850.4 L780.0,851.1 L784.1,850.8 L789.0,850.0 L793.7,848.6 L798.3,848.5 L803.0,847.9 L807.8,846.8 L812.5,844.0 L817.2,843.1 L822.0,842.0 L826.7,840.8 L831.4,840.3 L836.2,838.1 L840.9,837.7 L845.6,835.5 L850.4,833.8 L855.1,832.7 L859.8,831.3 L864.6,828.0 L869.3,826.3 L874.1,825.5 L878.9,822.2 L883.5,820.0 L887.7,818.9 L891.8,818.8 L896.3,816.3 L900.1,813.8 L904.3,810.2 L908.5,806.2 L912.7,802.8 L916.9,799.2 L921.3,794.8 L925.4,790.4 L929.0,786.5 L931.9,782.8 L934.3,779.1 L936.5,775.5 L938.8,771.8 L941.2,768.0 L943.7,764.3 L946.1,760.5 L948.6,757.2 L951.8,753.4 L955.1,750.5 L958.4,748.5 L962.8,746.9 L967.2,745.0 L971.2,746.6 L974.8,748.0 L978.0,750.4 L981.5,754.3 L984.3,757.6 L987.3,760.6 L991.6,763.7 L996.4,764.1 L1001.5,766.0 L1006.7,767.0 L1010.8,764.4 L1015.0,763.0 L1019.1,761.9 L1023.3,760.7 L1027.5,759.3 L1031.6,757.3 L1035.6,756.2 L1040.2,753.5 L1044.4,752.1 L1048.7,752.1 L1053.9,752.3 L1058.3,754.4 L1062.5,755.9 L1066.2,757.0 L1069.8,760.2 L1072.7,764.1 L1075.1,767.4 L1078.0,771.2 L1081.1,775.8 L1084.4,780.4 L1087.9,785.1 L1091.6,789.3 L1095.7,794.1 L1099.8,798.2 L1104.0,802.2 L1108.1,804.4 L1112.2,807.5 L1116.3,809.2 L1120.4,809.7 L1124.5,812.7 L1128.6,813.6 L1132.7,811.9 L1136.7,814.9 L1140.8,815.9 L1144.9,817.4 L1149.0,819.5 L1153.0,821.4 L1157.1,823.4 L1161.2,826.4 L1165.3,829.3 L1169.4,831.1 L1173.5,834.1 L1177.6,836.8 L1181.7,840.1 L1185.7,843.3 L1189.8,845.9 L1193.9,847.9 L1198.0,850.5 L1202.0,852.1 L1206.1,854.7 L1210.1,856.7 L1214.1,857.8 L1218.3,857.0 L1222.9,859.0 L1227.7,859.3 L1232.7,861.3 L1237.8,863.6 L1242.7,862.5 L1247.7,864.5 L1252.6,865.1 L1257.4,865.0 L1262.2,864.0 L1267.1,866.9 L1271.7,867.9 L1275.8,868.8 L1279.9,865.6 L1283.2,863.2 L1287.7,862.4 L1292.2,862.7 L1297.4,862.1 L1302.9,860.8 L1308.8,861.5 L1313.4,860.8 L1318.2,859.8 L1322.7,858.7 L1328.0,857.8 L1329.2,858.0" fill="none" stroke="#0000ff" stroke-width="5.3" stroke-linejoin="round" stroke-linecap="butt" transform="translate(0,-0.8)"/>
<path d="M121.7,869.3 L127.4,868.0 L133.3,867.8 L137.5,866.5 L141.5,865.7 L146.7,865.9 L151.7,866.7 L156.6,865.8 L161.7,865.2 L167.3,863.2 L171.3,864.0 L175.4,863.0 L179.4,862.5 L185.0,861.9 L189.5,861.5 L194.4,861.7 L198.8,859.9 L203.5,858.6 L208.3,857.5 L213.1,854.9 L217.9,853.9 L222.7,853.1 L227.5,851.7 L232.3,850.4 L237.2,849.0 L242.0,845.8 L246.8,844.4 L250.4,842.4 L254.0,840.0 L257.6,837.2 L261.2,835.2 L264.8,832.4 L268.5,830.8 L272.1,828.0 L275.7,824.8 L279.3,821.4 L282.9,818.5 L286.5,814.9 L290.1,811.7 L293.8,808.2 L297.5,804.4 L301.0,800.6 L304.2,796.6 L307.1,792.3 L309.9,787.8 L312.7,783.4 L315.6,779.2 L318.5,774.8 L321.4,770.5 L324.2,766.2 L327.1,761.4 L330.0,756.6 L332.9,751.5 L334.9,748.0 L336.8,744.5 L338.7,740.6 L340.6,736.7 L342.6,732.6 L344.5,728.6 L346.4,724.3 L348.3,719.9 L350.3,715.4 L352.3,710.6 L354.3,705.7 L356.2,700.8 L358.1,695.8 L359.9,691.0 L361.5,686.2 L363.1,681.6 L364.5,676.9 L365.9,672.1 L367.3,667.2 L368.6,662.1 L369.9,656.7 L371.2,651.0 L372.4,645.2 L373.6,639.3 L374.7,633.4 L375.8,627.5 L376.9,621.7 L377.9,615.7 L378.8,609.8 L379.8,603.9 L380.6,598.2 L381.5,592.8 L382.3,587.7 L383.1,583.0 L383.8,578.4 L384.5,573.8 L385.2,569.1 L385.5,566.6 L385.9,564.0 L386.3,561.3 L386.6,558.6 L387.0,555.7 L387.3,552.9 L387.7,550.0 L388.1,547.0 L388.4,544.0 L388.8,541.1 L389.1,538.1 L389.5,535.1 L389.8,532.2 L390.2,529.3 L390.6,526.4 L390.9,523.5 L391.3,520.6 L391.6,517.8 L392.0,514.9 L392.3,512.0 L392.7,509.1 L393.1,506.2 L393.4,503.4 L393.8,500.5 L394.1,497.6 L394.5,494.7 L394.9,491.9 L395.2,489.2 L395.6,486.5 L395.9,483.9 L396.3,481.3 L396.7,478.7 L397.0,476.0 L397.4,473.2 L397.8,470.2 L398.2,467.0 L398.6,463.6 L399.0,460.0 L399.4,456.1 L399.9,451.9 L400.4,447.4 L400.9,442.8 L401.3,438.0 L401.9,433.1 L402.4,428.2 L402.9,423.2 L403.4,418.2 L403.8,413.3 L404.3,408.5 L404.8,403.9 L405.3,399.4 L405.7,394.9 L406.2,390.4 L406.6,385.9 L407.0,381.5 L407.5,377.1 L407.9,372.7 L408.4,368.3 L408.8,363.9 L409.2,359.5 L409.7,355.0 L410.1,350.6 L410.5,346.1 L411.0,341.5 L411.4,336.9 L411.9,332.2 L412.3,327.5 L412.7,322.9 L413.2,318.3 L413.6,313.8 L414.1,309.4 L414.5,305.2 L415.0,301.1 L415.4,297.3 L415.9,293.6 L416.3,290.0 L416.8,286.4 L417.3,283.0 L417.7,279.7 L418.2,276.5 L418.7,273.5 L419.1,270.6 L419.6,267.9 L420.0,265.4 L420.4,263.1 L420.8,261.0 L421.2,259.1 L421.5,257.6 L421.9,256.2 L422.2,255.0 L422.8,253.2 L423.4,251.8 L423.9,250.7 L424.5,249.5 L425.1,248.4 L425.9,247.2 L427.0,246.3 L428.3,246.2 L429.4,246.9 L430.2,247.9 L431.0,249.5 L431.6,250.6 L432.1,251.7 L432.7,253.1 L433.3,254.9 L433.6,256.0 L433.9,257.4 L434.2,259.1 L434.6,261.0 L435.0,263.2 L435.4,265.7 L435.8,268.5 L436.3,271.5 L436.7,274.7 L437.2,278.0 L437.7,281.4 L438.1,285.0 L438.6,288.6 L439.1,292.2 L439.5,295.8 L440.0,299.4 L440.4,303.0 L440.9,306.8 L441.3,310.6 L441.8,314.6 L442.2,318.6 L442.7,322.6 L443.1,326.6 L443.5,330.7 L444.0,334.7 L444.4,338.6 L444.9,342.5 L445.3,346.3 L445.7,350.0 L446.2,353.7 L446.6,357.4 L447.1,361.1 L447.5,364.7 L447.9,368.3 L448.4,371.9 L448.8,375.4 L449.3,378.9 L449.7,382.3 L450.2,385.7 L450.6,389.0 L451.0,392.3 L451.5,395.5 L451.9,398.7 L452.4,401.8 L452.8,404.9 L453.2,407.9 L453.7,410.9 L454.1,413.8 L454.6,416.8 L455.0,419.6 L455.5,422.4 L456.0,425.2 L456.5,428.0 L457.0,430.8 L457.5,433.5 L458.1,436.3 L458.6,439.0 L459.2,441.7 L459.7,444.2 L460.3,446.7 L460.8,449.0 L461.3,451.2 L461.8,453.2 L462.3,455.0 L462.7,456.6 L463.2,458.0 L463.6,459.2 L464.4,461.3 L465.2,462.9 L465.9,464.2 L466.6,465.4 L467.4,466.6 L468.1,467.6 L469.1,468.7 L470.2,469.3 L471.6,469.5 L472.9,468.8 L474.0,467.8 L475.1,466.5 L475.9,465.5 L476.6,464.6 L477.4,463.6 L478.2,462.3 L479.1,460.7 L480.0,458.5 L480.5,457.2 L481.0,455.7 L481.6,454.1 L482.2,452.3 L482.8,450.4 L483.5,448.4 L484.1,446.2 L484.8,444.0 L485.4,441.7 L486.1,439.3 L486.7,436.8 L487.3,434.2 L487.9,431.6 L488.5,428.9 L489.0,426.0 L489.6,423.0 L490.1,419.9 L490.7,416.7 L491.2,413.5 L491.8,410.1 L492.3,406.8 L492.8,403.4 L493.3,400.0 L493.8,396.6 L494.3,393.2 L494.8,389.8 L495.3,386.5 L495.7,383.1 L496.2,379.7 L496.6,376.3 L497.1,372.8 L497.5,369.3 L497.9,365.7 L498.4,362.1 L498.8,358.4 L499.3,354.5 L499.7,350.6 L500.1,346.5 L500.6,342.3 L501.0,338.0 L501.5,333.6 L501.9,329.2 L502.4,324.6 L502.8,320.1 L503.2,315.5 L503.7,310.9 L504.1,306.3 L504.6,301.8 L505.0,297.3 L505.4,292.8 L505.9,288.1 L506.3,283.4 L506.8,278.6 L507.3,273.8 L507.7,269.1 L508.2,264.4 L508.6,259.9 L509.0,255.5 L509.5,251.4 L509.9,247.5 L510.3,244.0 L510.7,240.7 L511.1,237.7 L511.5,234.8 L511.9,232.1 L512.2,229.6 L512.6,227.2 L513.0,225.1 L513.3,223.0 L513.6,221.1 L514.0,219.4 L514.3,217.7 L514.6,216.2 L514.9,214.8 L515.4,212.7 L515.9,211.3 L516.6,209.9 L517.3,208.9 L517.9,207.8 L518.9,206.9 L520.1,206.7 L521.4,207.1 L522.3,208.1 L523.2,209.3 L524.0,210.5 L524.5,212.0 L525.0,214.5 L525.2,216.2 L525.5,218.3 L525.7,220.8 L526.0,223.5 L526.3,226.6 L526.5,229.8 L526.8,233.2 L527.1,236.7 L527.4,240.3 L527.7,244.0 L527.9,247.6 L528.2,251.2 L528.4,254.6 L528.6,258.0 L528.8,261.3 L529.0,264.7 L529.2,268.1 L529.4,271.6 L529.5,275.0 L529.7,278.5 L529.9,282.1 L530.1,285.8 L530.2,289.5 L530.4,293.4 L530.6,297.3 L530.8,301.4 L531.0,305.6 L531.2,309.9 L531.4,314.3 L531.6,318.8 L531.8,323.3 L532.0,327.9 L532.2,332.4 L532.4,337.0 L532.7,341.6 L532.9,346.1 L533.1,350.6 L533.3,355.0 L533.5,359.5 L533.8,363.9 L534.0,368.4 L534.2,372.8 L534.5,377.2 L534.7,381.7 L535.0,386.1 L535.2,390.6 L535.4,395.0 L535.7,399.5 L535.9,403.9 L536.1,408.4 L536.4,413.0 L536.6,417.7 L536.8,422.4 L537.1,427.1 L537.3,431.8 L537.6,436.4 L537.8,441.0 L538.0,445.3 L538.3,449.5 L538.5,453.5 L538.7,457.2 L538.9,460.6 L539.1,463.5 L539.3,466.2 L539.5,468.6 L539.7,470.9 L540.0,473.1 L540.2,475.4 L540.4,477.7 L540.6,480.3 L540.8,483.1 L541.0,486.3 L541.2,490.0 L541.4,494.1 L541.6,498.4 L541.8,503.0 L542.1,507.9 L542.3,512.9 L542.5,518.1 L542.7,523.4 L542.9,528.9 L543.2,534.4 L543.4,539.9 L543.7,545.5 L544.0,551.0 L544.3,556.6 L544.6,562.4 L544.9,568.4 L545.3,574.4 L545.6,580.6 L546.0,586.8 L546.3,592.9 L546.7,599.0 L547.1,605.0 L547.5,610.9 L547.9,616.5 L548.3,622.0 L548.7,627.3 L549.2,632.5 L549.6,637.6 L550.0,642.5 L550.5,647.4 L551.0,652.2 L551.5,656.9 L551.9,661.5 L552.4,666.0 L553.0,670.4 L553.5,674.7 L554.0,678.9 L554.5,683.0 L555.1,687.0 L555.6,690.9 L556.2,694.7 L556.7,698.4 L557.3,702.0 L557.9,705.5 L558.5,708.9 L559.1,712.2 L559.7,715.4 L561.1,721.5 L562.5,727.2 L564.0,732.3 L565.6,737.1 L567.3,741.6 L569.1,745.9 L571.0,749.8 L573.1,753.8 L575.4,757.2 L577.8,760.8 L580.3,763.7 L584.0,768.1 L587.6,772.5 L591.1,776.7 L594.7,780.2 L598.2,784.2 L601.8,788.4 L605.3,793.0 L607.7,796.3 L611.2,801.0 L614.8,805.5 L618.3,808.9 L621.9,812.4 L625.4,816.2 L629.0,818.9 L632.5,822.5 L636.1,824.8 L639.6,827.7 L643.2,830.4 L646.8,833.4 L650.3,835.2 L653.9,838.4 L657.5,839.6 L662.2,842.7 L667.0,843.1 L671.7,846.1 L676.6,845.2 L681.4,845.7 L685.7,846.2 L690.2,848.8 L694.9,850.1 L699.8,851.8 L704.0,849.9 L708.4,848.3 L713.0,849.3 L717.9,846.4 L723.0,846.0 L728.1,847.9 L733.0,847.9 L737.5,847.3 L741.7,848.7 L745.8,846.9 L750.0,849.9 L754.2,850.1 L758.5,850.8 L762.7,852.1 L767.0,850.4 L771.3,850.8 L775.7,850.4 L780.0,851.1 L784.1,850.8 L789.0,850.0 L793.7,848.6 L798.3,848.5 L803.0,847.9 L807.8,846.8 L812.5,844.0 L817.2,843.1 L822.0,842.0 L826.7,840.8 L831.4,840.3 L836.2,838.1 L840.9,837.7 L845.6,835.5 L850.4,833.8 L855.1,832.7 L859.8,831.3 L864.6,828.0 L869.3,826.3 L874.1,825.5 L878.9,822.2 L883.5,820.0 L887.7,818.9 L891.8,818.8 L896.3,816.3 L900.1,813.8 L904.3,810.2 L908.5,806.2 L912.7,802.8 L916.9,799.2 L921.3,794.8 L925.4,790.4 L929.0,786.5 L931.9,782.8 L934.3,779.1 L936.5,775.5 L938.8,771.8 L941.2,768.0 L943.7,764.3 L946.1,760.5 L948.6,757.2 L951.8,753.4 L955.1,750.5 L958.4,748.5 L962.8,746.9 L967.2,745.0 L971.2,746.6 L974.8,748.0 L978.0,750.4 L981.5,754.3 L984.3,757.6 L987.3,760.6 L991.6,763.7 L996.4,764.1 L1001.5,766.0 L1006.7,767.0 L1010.8,764.4 L1015.0,763.0 L1019.1,761.9 L1023.3,760.7 L1027.5,759.3 L1031.6,757.3 L1035.6,756.2 L1040.2,753.5 L1044.4,752.1 L1048.7,752.1 L1053.9,752.3 L1058.3,754.4 L1062.5,755.9 L1066.2,757.0 L1069.8,760.2 L1072.7,764.1 L1075.1,767.4 L1078.0,771.2 L1081.1,775.8 L1084.4,780.4 L1087.9,785.1 L1091.6,789.3 L1095.7,794.1 L1099.8,798.2 L1104.0,802.2 L1108.1,804.4 L1112.2,807.5 L1116.3,809.2 L1120.4,809.7 L1124.5,812.7 L1128.6,813.6 L1132.7,811.9 L1136.7,814.9 L1140.8,815.9 L1144.9,817.4 L1149.0,819.5 L1153.0,821.4 L1157.1,823.4 L1161.2,826.4 L1165.3,829.3 L1169.4,831.1 L1173.5,834.1 L1177.6,836.8 L1181.7,840.1 L1185.7,843.3 L1189.8,845.9 L1193.9,847.9 L1198.0,850.5 L1202.0,852.1 L1206.1,854.7 L1210.1,856.7 L1214.1,857.8 L1218.3,857.0 L1222.9,859.0 L1227.7,859.3 L1232.7,861.3 L1237.8,863.6 L1242.7,862.5 L1247.7,864.5 L1252.6,865.1 L1257.4,865.0 L1262.2,864.0 L1267.1,866.9 L1271.7,867.9 L1275.8,868.8 L1279.9,865.6 L1283.2,863.2 L1287.7,862.4 L1292.2,862.7 L1297.4,862.1 L1302.9,860.8 L1308.8,861.5 L1313.4,860.8 L1318.2,859.8 L1322.7,858.7 L1328.0,857.8 L1329.2,858.0" fill="none" stroke="#0000ff" stroke-width="5.3" stroke-linejoin="round" stroke-linecap="butt" transform="translate(0,0.8)"/>
<path d="M121.3,1209.9 L126.9,1209.7 L132.7,1209.2 L136.9,1209.2 L142.6,1208.0 L147.6,1207.8 L152.5,1204.6 L157.4,1205.1 L162.5,1205.6 L168.2,1204.0 L172.2,1204.2 L176.2,1201.5 L181.9,1201.6 L186.7,1200.1 L191.4,1199.1 L195.6,1197.4 L199.4,1194.9 L204.0,1193.8 L209.2,1192.4 L214.4,1192.2 L219.3,1190.2 L223.9,1187.4 L228.4,1186.9 L232.6,1184.0 L236.4,1182.7 L240.3,1179.2 L243.6,1175.7 L247.7,1172.8 L251.8,1169.6 L256.6,1167.0 L261.4,1165.2 L266.0,1161.8 L270.3,1157.6 L274.5,1153.9 L278.4,1149.4 L281.8,1145.6 L284.4,1142.1 L286.9,1138.3 L289.5,1134.1 L292.0,1130.4 L294.8,1126.4 L297.8,1122.0 L300.7,1117.4 L303.6,1112.3 L305.5,1108.6 L307.4,1104.7 L309.3,1100.9 L311.2,1097.0 L313.1,1093.0 L315.0,1089.4 L316.9,1085.6 L318.8,1081.8 L320.6,1078.2 L322.5,1074.3 L324.4,1070.3 L326.3,1066.2 L328.3,1061.9 L330.3,1057.5 L332.2,1053.3 L334.1,1048.9 L335.8,1044.8 L337.4,1040.9 L338.8,1037.1 L340.9,1031.6 L342.9,1025.9 L344.3,1022.0 L345.7,1017.9 L347.2,1013.7 L348.6,1009.4 L350.1,1005.1 L351.5,1000.8 L352.8,996.5 L354.1,992.3 L355.3,988.0 L356.5,983.7 L357.7,979.4 L358.8,975.2 L359.9,970.9 L360.9,966.6 L362.0,962.4 L362.9,958.1 L363.9,953.8 L364.7,949.5 L365.6,945.3 L366.4,941.0 L367.1,936.8 L367.8,932.6 L368.5,928.3 L369.2,924.1 L369.9,919.8 L370.6,915.4 L371.4,910.8 L372.1,906.3 L372.8,901.9 L373.5,897.8 L374.4,892.7 L375.3,888.3 L376.4,883.2 L377.3,878.1 L378.3,872.1 L379.0,867.6 L379.7,862.5 L380.6,856.6 L381.5,849.8 L382.6,841.8 L383.2,837.3 L383.8,832.6 L384.4,827.7 L385.1,822.6 L385.7,817.5 L386.4,812.3 L387.0,807.1 L387.6,801.9 L388.2,796.9 L388.8,792.0 L389.3,787.2 L389.8,782.5 L390.3,777.9 L390.8,773.3 L391.3,768.7 L391.7,764.1 L392.2,759.4 L392.7,754.6 L393.1,749.7 L393.6,744.8 L394.0,739.6 L394.5,734.3 L395.0,728.8 L395.5,723.1 L396.0,717.3 L396.5,711.3 L397.0,705.2 L397.5,699.1 L398.0,692.9 L398.5,686.7 L399.0,680.5 L399.4,674.3 L399.9,668.2 L400.3,662.1 L400.7,656.1 L401.1,650.1 L401.5,644.2 L401.9,638.3 L402.2,632.3 L402.6,626.4 L402.9,620.5 L403.2,614.5 L403.6,608.4 L403.9,602.4 L404.3,596.2 L404.6,590.0 L404.9,583.6 L405.3,577.0 L405.6,570.2 L406.0,563.3 L406.3,556.3 L406.7,549.4 L407.0,542.6 L407.4,535.9 L407.7,529.5 L408.0,523.3 L408.4,517.4 L408.7,512.0 L409.0,506.9 L409.3,502.2 L409.7,497.7 L410.0,493.4 L410.3,489.3 L410.6,485.4 L410.9,481.7 L411.2,478.2 L411.5,474.8 L411.9,471.4 L412.2,468.2 L412.5,465.0 L412.8,461.9 L413.2,458.9 L413.5,456.1 L413.9,453.4 L414.2,450.8 L414.6,448.3 L414.9,446.0 L415.2,443.7 L415.6,441.6 L415.9,439.6 L416.2,437.7 L416.5,435.9 L416.8,434.2 L417.1,432.7 L417.3,431.3 L417.6,430.0 L418.1,427.8 L418.6,426.0 L419.1,424.4 L419.5,423.0 L419.9,421.8 L420.5,420.7 L421.4,419.9 L422.8,420.3 L423.6,421.4 L424.2,423.0 L424.7,424.4 L425.1,426.0 L425.6,427.9 L426.2,430.1 L426.4,431.4 L426.7,432.8 L426.9,434.3 L427.2,435.9 L427.5,437.6 L427.7,439.5 L428.0,441.4 L428.2,443.4 L428.5,445.6 L428.7,447.8 L429.0,450.2 L429.3,452.7 L429.6,455.3 L429.9,458.0 L430.2,460.9 L430.5,464.0 L430.8,467.2 L431.2,470.5 L431.5,474.0 L431.9,477.6 L432.3,481.4 L432.7,485.2 L433.1,489.2 L433.5,493.3 L433.9,497.6 L434.4,501.9 L434.8,506.4 L435.3,511.0 L435.8,515.8 L436.3,520.8 L436.9,526.1 L437.4,531.5 L438.0,537.0 L438.6,542.6 L439.2,548.2 L439.8,553.9 L440.4,559.4 L441.0,564.9 L441.6,570.3 L442.2,575.5 L442.8,580.6 L443.4,585.6 L444.0,590.7 L444.6,595.7 L445.2,600.6 L445.8,605.5 L446.4,610.3 L447.0,615.1 L447.6,619.7 L448.2,624.3 L448.8,628.8 L449.4,633.2 L450.0,637.5 L450.6,641.7 L451.2,645.9 L451.8,650.0 L452.4,654.0 L453.0,657.9 L453.6,661.8 L454.2,665.5 L454.8,669.1 L455.4,672.7 L456.0,676.1 L456.6,679.4 L457.2,682.6 L457.8,685.8 L458.5,688.9 L459.1,691.9 L459.8,694.8 L460.4,697.6 L461.0,700.3 L461.7,702.8 L462.2,705.2 L462.8,707.4 L463.3,709.4 L463.8,711.2 L464.2,712.8 L464.6,714.1 L465.3,716.1 L465.9,717.4 L466.7,718.8 L467.5,720.0 L468.3,721.2 L469.3,722.3 L470.5,722.7 L471.9,722.3 L473.1,721.2 L474.0,720.0 L474.9,718.6 L475.9,717.1 L476.5,715.6 L477.3,713.7 L477.7,712.6 L478.2,711.2 L478.7,709.7 L479.3,708.0 L479.8,706.2 L480.5,704.2 L481.1,702.2 L481.8,700.0 L482.4,697.7 L483.1,695.4 L483.7,692.9 L484.3,690.4 L484.9,687.8 L485.5,685.2 L486.0,682.5 L486.6,679.7 L487.1,676.8 L487.6,673.8 L488.1,670.7 L488.5,667.5 L489.0,664.3 L489.5,661.1 L489.9,657.8 L490.3,654.4 L490.8,651.1 L491.2,647.7 L491.6,644.3 L492.0,641.0 L492.4,637.6 L492.8,634.2 L493.1,630.8 L493.5,627.3 L493.8,623.8 L494.2,620.1 L494.5,616.4 L494.9,612.5 L495.2,608.5 L495.6,604.4 L496.0,600.0 L496.3,595.4 L496.7,590.6 L497.1,585.6 L497.5,580.5 L497.8,575.4 L498.2,570.3 L498.6,565.2 L498.9,560.3 L499.3,555.5 L499.6,550.9 L499.9,546.6 L500.2,542.6 L500.5,538.8 L500.7,535.2 L501.0,531.8 L501.2,528.4 L501.4,525.2 L501.6,522.0 L501.9,518.7 L502.1,515.5 L502.3,512.1 L502.6,508.6 L502.9,505.0 L503.2,501.2 L503.5,497.3 L503.9,493.4 L504.2,489.3 L504.6,485.3 L505.0,481.2 L505.4,477.1 L505.7,473.0 L506.1,468.9 L506.4,464.9 L506.8,461.0 L507.1,457.2 L507.4,453.4 L507.7,449.6 L508.0,445.7 L508.2,441.8 L508.5,438.0 L508.8,434.3 L509.0,430.6 L509.3,427.0 L509.5,423.6 L509.8,420.4 L510.0,417.3 L510.3,414.5 L510.6,411.9 L510.8,409.4 L511.1,407.0 L511.3,404.8 L511.6,402.8 L511.9,400.8 L512.1,399.0 L512.4,397.4 L512.6,395.9 L512.8,394.5 L513.1,393.2 L513.5,391.0 L513.9,389.5 L514.5,388.3 L515.7,387.9 L516.9,388.3 L517.6,389.5 L518.1,391.0 L518.5,393.2 L518.8,394.4 L519.1,395.8 L519.3,397.3 L519.6,398.9 L519.9,400.7 L520.2,402.6 L520.4,404.6 L520.7,406.8 L521.0,409.2 L521.3,411.8 L521.6,414.5 L521.9,417.5 L522.2,420.8 L522.5,424.3 L522.9,428.0 L523.2,431.9 L523.5,435.8 L523.8,439.9 L524.2,444.0 L524.5,448.1 L524.8,452.2 L525.0,456.2 L525.3,460.0 L525.5,463.7 L525.8,467.4 L526.0,470.9 L526.2,474.5 L526.3,478.0 L526.5,481.6 L526.7,485.2 L526.8,488.9 L527.0,492.7 L527.2,496.6 L527.3,500.7 L527.5,505.0 L527.7,509.4 L527.8,513.8 L528.0,518.4 L528.2,523.0 L528.3,527.7 L528.5,532.5 L528.6,537.5 L528.8,542.6 L529.0,547.9 L529.1,553.4 L529.3,559.1 L529.5,565.0 L529.7,571.2 L529.9,577.7 L530.1,584.5 L530.3,591.5 L530.5,598.6 L530.7,605.9 L530.9,613.3 L531.1,620.7 L531.4,628.2 L531.6,635.5 L531.8,642.8 L532.0,650.0 L532.2,657.1 L532.4,664.2 L532.6,671.2 L532.8,678.3 L533.0,685.4 L533.2,692.5 L533.4,699.6 L533.6,706.7 L533.8,713.8 L534.1,720.8 L534.3,727.9 L534.5,735.0 L534.7,742.2 L535.0,749.5 L535.2,756.8 L535.5,764.3 L535.7,771.7 L536.0,779.1 L536.2,786.4 L536.5,793.5 L536.7,800.5 L537.0,807.3 L537.2,813.8 L537.5,820.0 L537.8,825.9 L538.0,831.5 L538.3,836.8 L538.5,842.0 L538.8,846.9 L539.0,851.8 L539.3,856.5 L539.5,861.2 L539.8,865.8 L540.1,870.5 L540.4,875.2 L540.7,880.0 L541.0,884.8 L541.4,889.7 L541.7,894.4 L542.1,899.2 L542.5,903.9 L542.9,908.6 L543.3,913.3 L543.7,918.0 L544.0,922.7 L544.4,927.4 L544.8,932.1 L545.2,936.8 L545.6,941.6 L545.9,946.4 L546.3,951.3 L546.7,956.3 L547.0,961.2 L547.4,966.1 L547.7,970.9 L548.1,975.7 L548.5,980.4 L548.9,984.9 L549.3,989.4 L549.7,993.6 L550.1,997.7 L550.6,1001.6 L551.0,1005.5 L551.5,1009.2 L551.9,1012.8 L552.4,1016.4 L552.9,1019.8 L553.4,1023.2 L553.8,1026.6 L554.4,1029.8 L554.9,1033.1 L555.4,1036.3 L555.9,1039.5 L556.5,1042.5 L557.0,1045.5 L557.6,1048.5 L558.1,1051.4 L558.7,1054.2 L559.3,1057.0 L559.9,1059.7 L561.1,1065.1 L562.5,1070.3 L564.0,1075.4 L565.5,1080.4 L567.1,1085.2 L568.8,1089.9 L570.5,1094.5 L572.4,1098.8 L574.4,1103.0 L576.5,1106.9 L578.7,1110.8 L580.9,1114.5 L583.1,1118.0 L586.2,1123.1 L589.1,1127.4 L591.9,1131.2 L594.7,1135.3 L597.6,1140.3 L599.5,1143.8 L601.4,1147.7 L603.3,1151.7 L605.2,1155.7 L607.1,1159.4 L608.9,1163.0 L611.8,1168.1 L614.6,1173.1 L617.4,1177.8 L620.2,1182.9 L623.1,1188.1 L625.0,1191.7 L627.9,1196.7 L630.7,1201.0 L633.5,1204.4 L637.1,1207.6 L641.0,1210.7 L645.4,1213.5 L649.0,1215.8 L652.7,1217.3 L656.3,1220.0 L661.0,1221.5 L665.8,1222.8 L670.5,1224.3 L675.2,1226.0 L680.0,1227.6 L684.7,1229.8 L689.1,1230.0 L693.5,1230.4 L698.9,1233.1 L704.0,1232.7 L709.7,1231.2 L715.7,1231.3 L721.6,1231.7 L727.3,1232.9 L733.1,1235.1 L738.8,1236.0 L744.3,1235.4 L749.7,1234.1 L755.0,1234.0 L759.9,1233.3 L764.2,1233.2 L768.2,1234.4 L772.2,1237.9 L777.1,1239.5 L782.6,1238.7 L786.8,1236.4 L790.9,1236.8 L794.9,1235.1 L799.8,1235.2 L803.7,1233.3 L808.1,1232.1 L812.5,1229.9 L817.2,1226.9 L822.0,1225.6 L826.7,1225.1 L831.4,1222.6 L836.2,1221.0 L840.9,1219.4 L845.6,1218.5 L850.4,1217.2 L855.1,1214.8 L859.8,1214.0 L864.6,1211.6 L869.3,1208.8 L874.1,1207.8 L877.7,1205.4 L882.4,1202.4 L886.7,1201.3 L890.8,1197.7 L895.1,1195.6 L898.8,1192.9 L902.9,1190.2 L907.1,1186.4 L911.3,1182.7 L915.5,1179.0 L919.7,1175.0 L923.8,1171.0 L927.8,1166.7 L931.4,1162.4 L934.8,1157.6 L938.0,1153.0 L941.1,1148.6 L944.1,1145.0 L947.1,1141.3 L949.9,1138.0 L953.5,1134.4 L957.6,1131.7 L961.6,1129.9 L966.0,1132.2 L969.9,1132.5 L973.7,1134.2 L977.3,1138.1 L979.6,1141.9 L982.4,1145.8 L986.2,1149.0 L991.8,1148.9 L996.2,1151.0 L1000.9,1149.8 L1005.3,1150.8 L1010.7,1150.5 L1014.8,1147.8 L1017.9,1144.2 L1021.7,1141.0 L1025.7,1138.3 L1030.1,1137.1 L1034.4,1135.4 L1038.8,1132.9 L1042.7,1131.8 L1047.5,1131.2 L1052.2,1131.4 L1056.1,1133.8 L1059.9,1136.8 L1062.7,1139.8 L1065.6,1143.5 L1068.5,1147.5 L1071.6,1152.5 L1073.7,1156.3 L1075.9,1160.4 L1078.1,1164.5 L1080.3,1168.4 L1082.5,1171.9 L1085.7,1176.6 L1088.8,1180.5 L1092.1,1184.4 L1095.6,1188.3 L1099.5,1192.1 L1103.6,1195.8 L1107.8,1199.3 L1112.0,1202.5 L1116.2,1205.5 L1120.4,1208.2 L1124.5,1210.6 L1128.3,1212.9 L1131.7,1215.3 L1134.8,1218.7 L1137.9,1221.0 L1141.3,1223.8 L1145.2,1224.0 L1149.3,1226.5 L1153.5,1227.3 L1157.7,1229.5 L1161.8,1232.7 L1165.8,1236.8 L1168.6,1240.0 L1171.3,1242.9 L1175.4,1246.7 L1179.5,1249.8 L1183.6,1253.3 L1187.7,1256.7 L1191.8,1259.2 L1195.8,1263.0 L1199.9,1265.7 L1204.0,1268.3 L1208.1,1269.7 L1212.1,1271.8 L1216.2,1272.3 L1220.3,1274.4 L1224.4,1276.1 L1228.5,1277.4 L1232.6,1278.0 L1236.7,1278.7 L1240.7,1279.2 L1245.4,1282.0 L1250.5,1283.0 L1255.7,1284.2 L1260.3,1283.6 L1265.6,1285.5 L1271.4,1283.7 L1277.4,1284.1 L1283.1,1284.0 L1288.4,1285.0 L1293.3,1285.4 L1298.0,1282.7 L1302.6,1283.3 L1306.9,1283.0 L1310.9,1280.9 L1316.2,1279.9 L1320.8,1281.5 L1325.8,1282.8 L1329.2,1283.4" fill="none" stroke="#000000" stroke-width="5.8" stroke-linejoin="round" stroke-linecap="butt" transform="translate(0,-0.8)"/>
<path d="M121.3,1209.9 L126.9,1209.7 L132.7,1209.2 L136.9,1209.2 L142.6,1208.0 L147.6,1207.8 L152.5,1204.6 L157.4,1205.1 L162.5,1205.6 L168.2,1204.0 L172.2,1204.2 L176.2,1201.5 L181.9,1201.6 L186.7,1200.1 L191.4,1199.1 L195.6,1197.4 L199.4,1194.9 L204.0,1193.8 L209.2,1192.4 L214.4,1192.2 L219.3,1190.2 L223.9,1187.4 L228.4,1186.9 L232.6,1184.0 L236.4,1182.7 L240.3,1179.2 L243.6,1175.7 L247.7,1172.8 L251.8,1169.6 L256.6,1167.0 L261.4,1165.2 L266.0,1161.8 L270.3,1157.6 L274.5,1153.9 L278.4,1149.4 L281.8,1145.6 L284.4,1142.1 L286.9,1138.3 L289.5,1134.1 L292.0,1130.4 L294.8,1126.4 L297.8,1122.0 L300.7,1117.4 L303.6,1112.3 L305.5,1108.6 L307.4,1104.7 L309.3,1100.9 L311.2,1097.0 L313.1,1093.0 L315.0,1089.4 L316.9,1085.6 L318.8,1081.8 L320.6,1078.2 L322.5,1074.3 L324.4,1070.3 L326.3,1066.2 L328.3,1061.9 L330.3,1057.5 L332.2,1053.3 L334.1,1048.9 L335.8,1044.8 L337.4,1040.9 L338.8,1037.1 L340.9,1031.6 L342.9,1025.9 L344.3,1022.0 L345.7,1017.9 L347.2,1013.7 L348.6,1009.4 L350.1,1005.1 L351.5,1000.8 L352.8,996.5 L354.1,992.3 L355.3,988.0 L356.5,983.7 L357.7,979.4 L358.8,975.2 L359.9,970.9 L360.9,966.6 L362.0,962.4 L362.9,958.1 L363.9,953.8 L364.7,949.5 L365.6,945.3 L366.4,941.0 L367.1,936.8 L367.8,932.6 L368.5,928.3 L369.2,924.1 L369.9,919.8 L370.6,915.4 L371.4,910.8 L372.1,906.3 L372.8,901.9 L373.5,897.8 L374.4,892.7 L375.3,888.3 L376.4,883.2 L377.3,878.1 L378.3,872.1 L379.0,867.6 L379.7,862.5 L380.6,856.6 L381.5,849.8 L382.6,841.8 L383.2,837.3 L383.8,832.6 L384.4,827.7 L385.1,822.6 L385.7,817.5 L386.4,812.3 L387.0,807.1 L387.6,801.9 L388.2,796.9 L388.8,792.0 L389.3,787.2 L389.8,782.5 L390.3,777.9 L390.8,773.3 L391.3,768.7 L391.7,764.1 L392.2,759.4 L392.7,754.6 L393.1,749.7 L393.6,744.8 L394.0,739.6 L394.5,734.3 L395.0,728.8 L395.5,723.1 L396.0,717.3 L396.5,711.3 L397.0,705.2 L397.5,699.1 L398.0,692.9 L398.5,686.7 L399.0,680.5 L399.4,674.3 L399.9,668.2 L400.3,662.1 L400.7,656.1 L401.1,650.1 L401.5,644.2 L401.9,638.3 L402.2,632.3 L402.6,626.4 L402.9,620.5 L403.2,614.5 L403.6,608.4 L403.9,602.4 L404.3,596.2 L404.6,590.0 L404.9,583.6 L405.3,577.0 L405.6,570.2 L406.0,563.3 L406.3,556.3 L406.7,549.4 L407.0,542.6 L407.4,535.9 L407.7,529.5 L408.0,523.3 L408.4,517.4 L408.7,512.0 L409.0,506.9 L409.3,502.2 L409.7,497.7 L410.0,493.4 L410.3,489.3 L410.6,485.4 L410.9,481.7 L411.2,478.2 L411.5,474.8 L411.9,471.4 L412.2,468.2 L412.5,465.0 L412.8,461.9 L413.2,458.9 L413.5,456.1 L413.9,453.4 L414.2,450.8 L414.6,448.3 L414.9,446.0 L415.2,443.7 L415.6,441.6 L415.9,439.6 L416.2,437.7 L416.5,435.9 L416.8,434.2 L417.1,432.7 L417.3,431.3 L417.6,430.0 L418.1,427.8 L418.6,426.0 L419.1,424.4 L419.5,423.0 L419.9,421.8 L420.5,420.7 L421.4,419.9 L422.8,420.3 L423.6,421.4 L424.2,423.0 L424.7,424.4 L425.1,426.0 L425.6,427.9 L426.2,430.1 L426.4,431.4 L426.7,432.8 L426.9,434.3 L427.2,435.9 L427.5,437.6 L427.7,439.5 L428.0,441.4 L428.2,443.4 L428.5,445.6 L428.7,447.8 L429.0,450.2 L429.3,452.7 L429.6,455.3 L429.9,458.0 L430.2,460.9 L430.5,464.0 L430.8,467.2 L431.2,470.5 L431.5,474.0 L431.9,477.6 L432.3,481.4 L432.7,485.2 L433.1,489.2 L433.5,493.3 L433.9,497.6 L434.4,501.9 L434.8,506.4 L435.3,511.0 L435.8,515.8 L436.3,520.8 L436.9,526.1 L437.4,531.5 L438.0,537.0 L438.6,542.6 L439.2,548.2 L439.8,553.9 L440.4,559.4 L441.0,564.9 L441.6,570.3 L442.2,575.5 L442.8,580.6 L443.4,585.6 L444.0,590.7 L444.6,595.7 L445.2,600.6 L445.8,605.5 L446.4,610.3 L447.0,615.1 L447.6,619.7 L448.2,624.3 L448.8,628.8 L449.4,633.2 L450.0,637.5 L450.6,641.7 L451.2,645.9 L451.8,650.0 L452.4,654.0 L453.0,657.9 L453.6,661.8 L454.2,665.5 L454.8,669.1 L455.4,672.7 L456.0,676.1 L456.6,679.4 L457.2,682.6 L457.8,685.8 L458.5,688.9 L459.1,691.9 L459.8,694.8 L460.4,697.6 L461.0,700.3 L461.7,702.8 L462.2,705.2 L462.8,707.4 L463.3,709.4 L463.8,711.2 L464.2,712.8 L464.6,714.1 L465.3,716.1 L465.9,717.4 L466.7,718.8 L467.5,720.0 L468.3,721.2 L469.3,722.3 L470.5,722.7 L471.9,722.3 L473.1,721.2 L474.0,720.0 L474.9,718.6 L475.9,717.1 L476.5,715.6 L477.3,713.7 L477.7,712.6 L478.2,711.2 L478.7,709.7 L479.3,708.0 L479.8,706.2 L480.5,704.2 L481.1,702.2 L481.8,700.0 L482.4,697.7 L483.1,695.4 L483.7,692.9 L484.3,690.4 L484.9,687.8 L485.5,685.2 L486.0,682.5 L486.6,679.7 L487.1,676.8 L487.6,673.8 L488.1,670.7 L488.5,667.5 L489.0,664.3 L489.5,661.1 L489.9,657.8 L490.3,654.4 L490.8,651.1 L491.2,647.7 L491.6,644.3 L492.0,641.0 L492.4,637.6 L492.8,634.2 L493.1,630.8 L493.5,627.3 L493.8,623.8 L494.2,620.1 L494.5,616.4 L494.9,612.5 L495.2,608.5 L495.6,604.4 L496.0,600.0 L496.3,595.4 L496.7,590.6 L497.1,585.6 L497.5,580.5 L497.8,575.4 L498.2,570.3 L498.6,565.2 L498.9,560.3 L499.3,555.5 L499.6,550.9 L499.9,546.6 L500.2,542.6 L500.5,538.8 L500.7,535.2 L501.0,531.8 L501.2,528.4 L501.4,525.2 L501.6,522.0 L501.9,518.7 L502.1,515.5 L502.3,512.1 L502.6,508.6 L502.9,505.0 L503.2,501.2 L503.5,497.3 L503.9,493.4 L504.2,489.3 L504.6,485.3 L505.0,481.2 L505.4,477.1 L505.7,473.0 L506.1,468.9 L506.4,464.9 L506.8,461.0 L507.1,457.2 L507.4,453.4 L507.7,449.6 L508.0,445.7 L508.2,441.8 L508.5,438.0 L508.8,434.3 L509.0,430.6 L509.3,427.0 L509.5,423.6 L509.8,420.4 L510.0,417.3 L510.3,414.5 L510.6,411.9 L510.8,409.4 L511.1,407.0 L511.3,404.8 L511.6,402.8 L511.9,400.8 L512.1,399.0 L512.4,397.4 L512.6,395.9 L512.8,394.5 L513.1,393.2 L513.5,391.0 L513.9,389.5 L514.5,388.3 L515.7,387.9 L516.9,388.3 L517.6,389.5 L518.1,391.0 L518.5,393.2 L518.8,394.4 L519.1,395.8 L519.3,397.3 L519.6,398.9 L519.9,400.7 L520.2,402.6 L520.4,404.6 L520.7,406.8 L521.0,409.2 L521.3,411.8 L521.6,414.5 L521.9,417.5 L522.2,420.8 L522.5,424.3 L522.9,428.0 L523.2,431.9 L523.5,435.8 L523.8,439.9 L524.2,444.0 L524.5,448.1 L524.8,452.2 L525.0,456.2 L525.3,460.0 L525.5,463.7 L525.8,467.4 L526.0,470.9 L526.2,474.5 L526.3,478.0 L526.5,481.6 L526.7,485.2 L526.8,488.9 L527.0,492.7 L527.2,496.6 L527.3,500.7 L527.5,505.0 L527.7,509.4 L527.8,513.8 L528.0,518.4 L528.2,523.0 L528.3,527.7 L528.5,532.5 L528.6,537.5 L528.8,542.6 L529.0,547.9 L529.1,553.4 L529.3,559.1 L529.5,565.0 L529.7,571.2 L529.9,577.7 L530.1,584.5 L530.3,591.5 L530.5,598.6 L530.7,605.9 L530.9,613.3 L531.1,620.7 L531.4,628.2 L531.6,635.5 L531.8,642.8 L532.0,650.0 L532.2,657.1 L532.4,664.2 L532.6,671.2 L532.8,678.3 L533.0,685.4 L533.2,692.5 L533.4,699.6 L533.6,706.7 L533.8,713.8 L534.1,720.8 L534.3,727.9 L534.5,735.0 L534.7,742.2 L535.0,749.5 L535.2,756.8 L535.5,764.3 L535.7,771.7 L536.0,779.1 L536.2,786.4 L536.5,793.5 L536.7,800.5 L537.0,807.3 L537.2,813.8 L537.5,820.0 L537.8,825.9 L538.0,831.5 L538.3,836.8 L538.5,842.0 L538.8,846.9 L539.0,851.8 L539.3,856.5 L539.5,861.2 L539.8,865.8 L540.1,870.5 L540.4,875.2 L540.7,880.0 L541.0,884.8 L541.4,889.7 L541.7,894.4 L542.1,899.2 L542.5,903.9 L542.9,908.6 L543.3,913.3 L543.7,918.0 L544.0,922.7 L544.4,927.4 L544.8,932.1 L545.2,936.8 L545.6,941.6 L545.9,946.4 L546.3,951.3 L546.7,956.3 L547.0,961.2 L547.4,966.1 L547.7,970.9 L548.1,975.7 L548.5,980.4 L548.9,984.9 L549.3,989.4 L549.7,993.6 L550.1,997.7 L550.6,1001.6 L551.0,1005.5 L551.5,1009.2 L551.9,1012.8 L552.4,1016.4 L552.9,1019.8 L553.4,1023.2 L553.8,1026.6 L554.4,1029.8 L554.9,1033.1 L555.4,1036.3 L555.9,1039.5 L556.5,1042.5 L557.0,1045.5 L557.6,1048.5 L558.1,1051.4 L558.7,1054.2 L559.3,1057.0 L559.9,1059.7 L561.1,1065.1 L562.5,1070.3 L564.0,1075.4 L565.5,1080.4 L567.1,1085.2 L568.8,1089.9 L570.5,1094.5 L572.4,1098.8 L574.4,1103.0 L576.5,1106.9 L578.7,1110.8 L580.9,1114.5 L583.1,1118.0 L586.2,1123.1 L589.1,1127.4 L591.9,1131.2 L594.7,1135.3 L597.6,1140.3 L599.5,1143.8 L601.4,1147.7 L603.3,1151.7 L605.2,1155.7 L607.1,1159.4 L608.9,1163.0 L611.8,1168.1 L614.6,1173.1 L617.4,1177.8 L620.2,1182.9 L623.1,1188.1 L625.0,1191.7 L627.9,1196.7 L630.7,1201.0 L633.5,1204.4 L637.1,1207.6 L641.0,1210.7 L645.4,1213.5 L649.0,1215.8 L652.7,1217.3 L656.3,1220.0 L661.0,1221.5 L665.8,1222.8 L670.5,1224.3 L675.2,1226.0 L680.0,1227.6 L684.7,1229.8 L689.1,1230.0 L693.5,1230.4 L698.9,1233.1 L704.0,1232.7 L709.7,1231.2 L715.7,1231.3 L721.6,1231.7 L727.3,1232.9 L733.1,1235.1 L738.8,1236.0 L744.3,1235.4 L749.7,1234.1 L755.0,1234.0 L759.9,1233.3 L764.2,1233.2 L768.2,1234.4 L772.2,1237.9 L777.1,1239.5 L782.6,1238.7 L786.8,1236.4 L790.9,1236.8 L794.9,1235.1 L799.8,1235.2 L803.7,1233.3 L808.1,1232.1 L812.5,1229.9 L817.2,1226.9 L822.0,1225.6 L826.7,1225.1 L831.4,1222.6 L836.2,1221.0 L840.9,1219.4 L845.6,1218.5 L850.4,1217.2 L855.1,1214.8 L859.8,1214.0 L864.6,1211.6 L869.3,1208.8 L874.1,1207.8 L877.7,1205.4 L882.4,1202.4 L886.7,1201.3 L890.8,1197.7 L895.1,1195.6 L898.8,1192.9 L902.9,1190.2 L907.1,1186.4 L911.3,1182.7 L915.5,1179.0 L919.7,1175.0 L923.8,1171.0 L927.8,1166.7 L931.4,1162.4 L934.8,1157.6 L938.0,1153.0 L941.1,1148.6 L944.1,1145.0 L947.1,1141.3 L949.9,1138.0 L953.5,1134.4 L957.6,1131.7 L961.6,1129.9 L966.0,1132.2 L969.9,1132.5 L973.7,1134.2 L977.3,1138.1 L979.6,1141.9 L982.4,1145.8 L986.2,1149.0 L991.8,1148.9 L996.2,1151.0 L1000.9,1149.8 L1005.3,1150.8 L1010.7,1150.5 L1014.8,1147.8 L1017.9,1144.2 L1021.7,1141.0 L1025.7,1138.3 L1030.1,1137.1 L1034.4,1135.4 L1038.8,1132.9 L1042.7,1131.8 L1047.5,1131.2 L1052.2,1131.4 L1056.1,1133.8 L1059.9,1136.8 L1062.7,1139.8 L1065.6,1143.5 L1068.5,1147.5 L1071.6,1152.5 L1073.7,1156.3 L1075.9,1160.4 L1078.1,1164.5 L1080.3,1168.4 L1082.5,1171.9 L1085.7,1176.6 L1088.8,1180.5 L1092.1,1184.4 L1095.6,1188.3 L1099.5,1192.1 L1103.6,1195.8 L1107.8,1199.3 L1112.0,1202.5 L1116.2,1205.5 L1120.4,1208.2 L1124.5,1210.6 L1128.3,1212.9 L1131.7,1215.3 L1134.8,1218.7 L1137.9,1221.0 L1141.3,1223.8 L1145.2,1224.0 L1149.3,1226.5 L1153.5,1227.3 L1157.7,1229.5 L1161.8,1232.7 L1165.8,1236.8 L1168.6,1240.0 L1171.3,1242.9 L1175.4,1246.7 L1179.5,1249.8 L1183.6,1253.3 L1187.7,1256.7 L1191.8,1259.2 L1195.8,1263.0 L1199.9,1265.7 L1204.0,1268.3 L1208.1,1269.7 L1212.1,1271.8 L1216.2,1272.3 L1220.3,1274.4 L1224.4,1276.1 L1228.5,1277.4 L1232.6,1278.0 L1236.7,1278.7 L1240.7,1279.2 L1245.4,1282.0 L1250.5,1283.0 L1255.7,1284.2 L1260.3,1283.6 L1265.6,1285.5 L1271.4,1283.7 L1277.4,1284.1 L1283.1,1284.0 L1288.4,1285.0 L1293.3,1285.4 L1298.0,1282.7 L1302.6,1283.3 L1306.9,1283.0 L1310.9,1280.9 L1316.2,1279.9 L1320.8,1281.5 L1325.8,1282.8 L1329.2,1283.4" fill="none" stroke="#000000" stroke-width="5.8" stroke-linejoin="round" stroke-linecap="butt" transform="translate(0,0.8)"/>
<text transform="translate(407,76.5) scale(1,1.04)" class="t58" >D</text>
<text transform="translate(480.5,76.5) scale(1,1.04)" class="t58" >G</text>
<text transform="translate(538.5,76.5) scale(1,1.04)" class="t58" >D</text>
<text transform="translate(580.1,70.8) scale(1,1.0)" class="t46" >`</text>
<text transform="translate(859,76.5) scale(1,1.07)" class="t56" >D<tspan font-size="44" dy="-4.3" dx="3.5">*</tspan><tspan dy="4.3" dx="1.2"> 2D D+D</tspan><tspan dy="-3.4" font-size="46">`</tspan><tspan dy="3.4" dx="3.3"> 2D</tspan><tspan dy="-3.4" font-size="46">`</tspan></text>
<text transform="translate(659,370.5) scale(1,1.04)" class="t60" letter-spacing="0.7">GROS-A</text>
<text transform="translate(659,792.5) scale(1,1.04)" class="t60" letter-spacing="0.7">GROF-A</text>
<text transform="translate(659,1156.5) scale(1,1.04)" class="t60" letter-spacing="0.7">GROE-A</text>
<text transform="translate(467.7,1490) scale(1,1.04)" class="t60" letter-spacing="0.6">Raman</text>
<text transform="translate(680.2,1490) scale(1,1.04)" class="t60" letter-spacing="0.4">shift</text>
<text transform="translate(806.5,1490) scale(1,1.04)" class="t60" letter-spacing="0.4">(cm</text>
<text transform="translate(906.5,1476) scale(1,1.0)" class="t45" >-</text><text transform="translate(923.6,1476) scale(1,1.04)" class="t45" >1</text>
<text transform="translate(943.3,1490) scale(1,1.04)" class="t60" >)</text>
<text transform="translate(65,871) rotate(-90) scale(1,1.04)" class="t60" letter-spacing="0.25">Intensity (a.u.)</text>
</g>
</svg>
</body></html>
